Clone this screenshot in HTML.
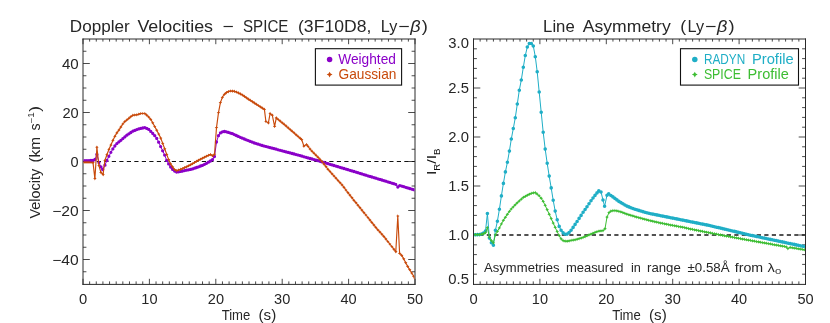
<!DOCTYPE html>
<html><head><meta charset="utf-8"><title>Doppler Velocities / Line Asymmetry</title>
<style>
html,body{margin:0;padding:0;background:#fff;}
body{width:830px;height:323px;overflow:hidden;}
svg{display:block;font-family:"Liberation Sans",sans-serif;}
</style></head><body>
<svg width="830" height="323" viewBox="0 0 830 323">
<rect width="830" height="323" fill="#fff"/>
<defs>
<clipPath id="c1"><rect x="83.6" y="39.6" width="330.8" height="243.8"/></clipPath>
<clipPath id="c2"><rect x="474.1" y="39.6" width="330.8" height="243.8"/></clipPath>
</defs>
<g style="will-change:transform">
<path d="M83.0,38.5V284.9M415.0,38.5V284.9M82.5,39.0H415.5M82.5,284.4H415.5" fill="none" stroke="#2a2a2a" stroke-width="1"/>
<path d="M83.00,284.4v-5.6000000000000005M83.00,39.0v5.2M89.64,284.4v-3.0M89.64,39.0v2.6M96.28,284.4v-3.0M96.28,39.0v2.6M102.92,284.4v-3.0M102.92,39.0v2.6M109.56,284.4v-3.0M109.56,39.0v2.6M116.20,284.4v-3.0M116.20,39.0v2.6M122.84,284.4v-3.0M122.84,39.0v2.6M129.48,284.4v-3.0M129.48,39.0v2.6M136.12,284.4v-3.0M136.12,39.0v2.6M142.76,284.4v-3.0M142.76,39.0v2.6M149.40,284.4v-5.6000000000000005M149.40,39.0v5.2M156.04,284.4v-3.0M156.04,39.0v2.6M162.68,284.4v-3.0M162.68,39.0v2.6M169.32,284.4v-3.0M169.32,39.0v2.6M175.96,284.4v-3.0M175.96,39.0v2.6M182.60,284.4v-3.0M182.60,39.0v2.6M189.24,284.4v-3.0M189.24,39.0v2.6M195.88,284.4v-3.0M195.88,39.0v2.6M202.52,284.4v-3.0M202.52,39.0v2.6M209.16,284.4v-3.0M209.16,39.0v2.6M215.80,284.4v-5.6000000000000005M215.80,39.0v5.2M222.44,284.4v-3.0M222.44,39.0v2.6M229.08,284.4v-3.0M229.08,39.0v2.6M235.72,284.4v-3.0M235.72,39.0v2.6M242.36,284.4v-3.0M242.36,39.0v2.6M249.00,284.4v-3.0M249.00,39.0v2.6M255.64,284.4v-3.0M255.64,39.0v2.6M262.28,284.4v-3.0M262.28,39.0v2.6M268.92,284.4v-3.0M268.92,39.0v2.6M275.56,284.4v-3.0M275.56,39.0v2.6M282.20,284.4v-5.6000000000000005M282.20,39.0v5.2M288.84,284.4v-3.0M288.84,39.0v2.6M295.48,284.4v-3.0M295.48,39.0v2.6M302.12,284.4v-3.0M302.12,39.0v2.6M308.76,284.4v-3.0M308.76,39.0v2.6M315.40,284.4v-3.0M315.40,39.0v2.6M322.04,284.4v-3.0M322.04,39.0v2.6M328.68,284.4v-3.0M328.68,39.0v2.6M335.32,284.4v-3.0M335.32,39.0v2.6M341.96,284.4v-3.0M341.96,39.0v2.6M348.60,284.4v-5.6000000000000005M348.60,39.0v5.2M355.24,284.4v-3.0M355.24,39.0v2.6M361.88,284.4v-3.0M361.88,39.0v2.6M368.52,284.4v-3.0M368.52,39.0v2.6M375.16,284.4v-3.0M375.16,39.0v2.6M381.80,284.4v-3.0M381.80,39.0v2.6M388.44,284.4v-3.0M388.44,39.0v2.6M395.08,284.4v-3.0M395.08,39.0v2.6M401.72,284.4v-3.0M401.72,39.0v2.6M408.36,284.4v-3.0M408.36,39.0v2.6M415.00,284.4v-5.6000000000000005M415.00,39.0v5.2M83.0,63.50h6.8M415.0,63.50h-6.8M83.0,112.50h6.8M415.0,112.50h-6.8M83.0,161.50h6.8M415.0,161.50h-6.8M83.0,210.50h6.8M415.0,210.50h-6.8M83.0,259.50h6.8M415.0,259.50h-6.8M83.0,51.25h3.4M415.0,51.25h-3.4M83.0,75.75h3.4M415.0,75.75h-3.4M83.0,88.00h3.4M415.0,88.00h-3.4M83.0,100.25h3.4M415.0,100.25h-3.4M83.0,124.75h3.4M415.0,124.75h-3.4M83.0,137.00h3.4M415.0,137.00h-3.4M83.0,149.25h3.4M415.0,149.25h-3.4M83.0,173.75h3.4M415.0,173.75h-3.4M83.0,186.00h3.4M415.0,186.00h-3.4M83.0,198.25h3.4M415.0,198.25h-3.4M83.0,222.75h3.4M415.0,222.75h-3.4M83.0,235.00h3.4M415.0,235.00h-3.4M83.0,247.25h3.4M415.0,247.25h-3.4M83.0,271.75h3.4M415.0,271.75h-3.4" stroke="#2a2a2a" stroke-width="0.85" fill="none"/>
<text x="79.0" y="303.5" font-size="13.9" fill="#262626" textLength="8.2" lengthAdjust="spacingAndGlyphs">0</text>
<text x="141.3" y="303.5" font-size="13.9" fill="#262626" textLength="16.2" lengthAdjust="spacingAndGlyphs">10</text>
<text x="207.8" y="303.5" font-size="13.9" fill="#262626" textLength="16.2" lengthAdjust="spacingAndGlyphs">20</text>
<text x="274.1" y="303.5" font-size="13.9" fill="#262626" textLength="16.2" lengthAdjust="spacingAndGlyphs">30</text>
<text x="340.5" y="303.5" font-size="13.9" fill="#262626" textLength="16.2" lengthAdjust="spacingAndGlyphs">40</text>
<text x="406.9" y="303.5" font-size="13.9" fill="#262626" textLength="16.2" lengthAdjust="spacingAndGlyphs">50</text>
<text x="61.9" y="68.7" font-size="13.9" fill="#262626" textLength="16.8" lengthAdjust="spacingAndGlyphs">40</text>
<text x="62.4" y="117.9" font-size="13.9" fill="#262626" textLength="16.3" lengthAdjust="spacingAndGlyphs">20</text>
<text x="70.6" y="166.7" font-size="13.9" fill="#262626" textLength="8.1" lengthAdjust="spacingAndGlyphs">0</text>
<text x="52.2" y="215.9" font-size="13.9" fill="#262626" textLength="26.5" lengthAdjust="spacingAndGlyphs">−20</text>
<text x="52.2" y="264.9" font-size="13.9" fill="#262626" textLength="26.5" lengthAdjust="spacingAndGlyphs">−40</text>
<g clip-path="url(#c1)">
<path d="M81.8,161.5H415" stroke="#111" stroke-width="1.15" stroke-dasharray="4.2 3.3" fill="none"/>
<polyline points="83.0,160.6 85.0,160.6 87.0,160.6 89.0,160.6 91.0,160.5 93.0,160.4 95.0,159.5 96.9,154.5 98.9,162.4 100.9,166.9 102.7,169.5 104.9,165.2 106.9,160.5 108.9,156.3 110.9,152.3 112.9,148.9 114.9,146.0 116.9,143.6 118.9,141.9 120.8,140.3 122.8,138.6 124.8,136.9 126.8,135.2 128.8,133.8 130.8,132.5 132.8,131.2 134.8,130.4 136.8,129.6 138.8,128.9 140.8,128.4 142.8,128.0 144.8,127.6 146.7,128.4 148.7,129.4 150.7,131.4 152.7,133.5 154.7,135.7 156.7,138.4 158.7,142.2 160.7,146.6 162.7,150.8 164.7,155.1 166.7,160.4 168.7,163.9 170.6,167.0 172.6,169.4 174.6,171.0 176.6,172.0 178.6,171.8 180.6,171.4 182.6,171.0 184.6,170.6 186.6,170.2 188.6,169.8 190.6,169.4 192.6,168.9 194.6,168.2 196.5,167.5 198.5,166.8 200.5,166.0 202.5,165.3 204.5,164.3 206.5,163.3 208.5,162.2 210.5,161.0 212.5,159.7 214.5,156.5 216.5,142.0 218.5,135.7 220.4,132.9 222.4,131.8 224.4,131.5 226.4,131.8 228.4,132.4 230.4,133.1 232.4,133.7 234.4,134.6 236.4,135.5 238.4,136.4 240.4,137.3 242.4,138.2 244.4,139.0 246.3,139.8 248.3,140.6 250.3,141.4 252.3,142.2 254.3,143.0 256.3,143.6 258.3,144.2 260.3,144.8 262.3,145.5 264.3,146.1 266.3,146.6 268.3,147.1 270.2,147.7 272.2,148.2 274.2,148.7 276.2,149.2 278.2,149.8 280.2,150.3 282.2,150.8 284.2,151.3 286.2,151.9 288.2,152.4 290.2,152.9 292.2,153.5 294.2,154.0 296.1,154.6 298.1,155.1 300.1,155.6 302.1,156.2 304.1,156.8 306.1,157.3 308.1,157.9 310.1,158.5 312.1,159.0 314.1,159.6 316.1,160.1 318.1,160.7 320.0,161.3 322.0,161.9 324.0,162.5 326.0,163.1 328.0,163.7 330.0,164.3 332.0,164.9 334.0,165.5 336.0,166.1 338.0,166.7 340.0,167.3 342.0,167.9 344.0,168.5 345.9,169.1 347.9,169.7 349.9,170.3 351.9,170.9 353.9,171.5 355.9,172.1 357.9,172.7 359.9,173.3 361.9,173.9 363.9,174.6 365.9,175.2 367.9,175.8 369.8,176.4 371.8,177.0 373.8,177.6 375.8,178.2 377.8,178.8 379.8,179.4 381.8,180.0 383.8,180.6 385.8,181.2 387.8,181.8 389.8,182.4 391.8,183.1 393.8,183.7 395.7,184.3 397.8,187.0 399.7,185.6 401.7,186.1 403.7,186.7 405.7,187.3 407.7,187.9 409.7,188.5 411.7,189.1 413.7,189.7 415.0,190.1" fill="none" stroke="#8A00C8" stroke-width="1"/>
<path d="M81.3,160.6a1.65,1.65 0 1,0 3.3,0a1.65,1.65 0 1,0 -3.3,0zM83.3,160.6a1.65,1.65 0 1,0 3.3,0a1.65,1.65 0 1,0 -3.3,0zM85.3,160.6a1.65,1.65 0 1,0 3.3,0a1.65,1.65 0 1,0 -3.3,0zM87.3,160.6a1.65,1.65 0 1,0 3.3,0a1.65,1.65 0 1,0 -3.3,0zM89.3,160.5a1.65,1.65 0 1,0 3.3,0a1.65,1.65 0 1,0 -3.3,0zM91.3,160.4a1.65,1.65 0 1,0 3.3,0a1.65,1.65 0 1,0 -3.3,0zM93.3,159.5a1.65,1.65 0 1,0 3.3,0a1.65,1.65 0 1,0 -3.3,0zM95.2,154.5a1.65,1.65 0 1,0 3.3,0a1.65,1.65 0 1,0 -3.3,0zM97.3,162.4a1.65,1.65 0 1,0 3.3,0a1.65,1.65 0 1,0 -3.3,0zM99.3,166.9a1.65,1.65 0 1,0 3.3,0a1.65,1.65 0 1,0 -3.3,0zM101.0,169.5a1.65,1.65 0 1,0 3.3,0a1.65,1.65 0 1,0 -3.3,0zM103.3,165.2a1.65,1.65 0 1,0 3.3,0a1.65,1.65 0 1,0 -3.3,0zM105.3,160.5a1.65,1.65 0 1,0 3.3,0a1.65,1.65 0 1,0 -3.3,0zM107.2,156.3a1.65,1.65 0 1,0 3.3,0a1.65,1.65 0 1,0 -3.3,0zM109.2,152.3a1.65,1.65 0 1,0 3.3,0a1.65,1.65 0 1,0 -3.3,0zM111.2,148.9a1.65,1.65 0 1,0 3.3,0a1.65,1.65 0 1,0 -3.3,0zM113.2,146.0a1.65,1.65 0 1,0 3.3,0a1.65,1.65 0 1,0 -3.3,0zM115.2,143.6a1.65,1.65 0 1,0 3.3,0a1.65,1.65 0 1,0 -3.3,0zM117.2,141.9a1.65,1.65 0 1,0 3.3,0a1.65,1.65 0 1,0 -3.3,0zM119.2,140.3a1.65,1.65 0 1,0 3.3,0a1.65,1.65 0 1,0 -3.3,0zM121.2,138.6a1.65,1.65 0 1,0 3.3,0a1.65,1.65 0 1,0 -3.3,0zM123.2,136.9a1.65,1.65 0 1,0 3.3,0a1.65,1.65 0 1,0 -3.3,0zM125.2,135.2a1.65,1.65 0 1,0 3.3,0a1.65,1.65 0 1,0 -3.3,0zM127.2,133.8a1.65,1.65 0 1,0 3.3,0a1.65,1.65 0 1,0 -3.3,0zM129.2,132.5a1.65,1.65 0 1,0 3.3,0a1.65,1.65 0 1,0 -3.3,0zM131.2,131.2a1.65,1.65 0 1,0 3.3,0a1.65,1.65 0 1,0 -3.3,0zM133.1,130.4a1.65,1.65 0 1,0 3.3,0a1.65,1.65 0 1,0 -3.3,0zM135.1,129.6a1.65,1.65 0 1,0 3.3,0a1.65,1.65 0 1,0 -3.3,0zM137.1,128.9a1.65,1.65 0 1,0 3.3,0a1.65,1.65 0 1,0 -3.3,0zM139.1,128.4a1.65,1.65 0 1,0 3.3,0a1.65,1.65 0 1,0 -3.3,0zM141.1,128.0a1.65,1.65 0 1,0 3.3,0a1.65,1.65 0 1,0 -3.3,0zM143.1,127.6a1.65,1.65 0 1,0 3.3,0a1.65,1.65 0 1,0 -3.3,0zM145.1,128.4a1.65,1.65 0 1,0 3.3,0a1.65,1.65 0 1,0 -3.3,0zM147.1,129.4a1.65,1.65 0 1,0 3.3,0a1.65,1.65 0 1,0 -3.3,0zM149.1,131.4a1.65,1.65 0 1,0 3.3,0a1.65,1.65 0 1,0 -3.3,0zM151.1,133.5a1.65,1.65 0 1,0 3.3,0a1.65,1.65 0 1,0 -3.3,0zM153.1,135.7a1.65,1.65 0 1,0 3.3,0a1.65,1.65 0 1,0 -3.3,0zM155.1,138.4a1.65,1.65 0 1,0 3.3,0a1.65,1.65 0 1,0 -3.3,0zM157.0,142.2a1.65,1.65 0 1,0 3.3,0a1.65,1.65 0 1,0 -3.3,0zM159.0,146.6a1.65,1.65 0 1,0 3.3,0a1.65,1.65 0 1,0 -3.3,0zM161.0,150.8a1.65,1.65 0 1,0 3.3,0a1.65,1.65 0 1,0 -3.3,0zM163.0,155.1a1.65,1.65 0 1,0 3.3,0a1.65,1.65 0 1,0 -3.3,0zM165.0,160.4a1.65,1.65 0 1,0 3.3,0a1.65,1.65 0 1,0 -3.3,0zM167.0,163.9a1.65,1.65 0 1,0 3.3,0a1.65,1.65 0 1,0 -3.3,0zM169.0,167.0a1.65,1.65 0 1,0 3.3,0a1.65,1.65 0 1,0 -3.3,0zM171.0,169.4a1.65,1.65 0 1,0 3.3,0a1.65,1.65 0 1,0 -3.3,0zM173.0,171.0a1.65,1.65 0 1,0 3.3,0a1.65,1.65 0 1,0 -3.3,0zM175.0,172.0a1.65,1.65 0 1,0 3.3,0a1.65,1.65 0 1,0 -3.3,0zM177.0,171.8a1.65,1.65 0 1,0 3.3,0a1.65,1.65 0 1,0 -3.3,0zM179.0,171.4a1.65,1.65 0 1,0 3.3,0a1.65,1.65 0 1,0 -3.3,0zM180.9,171.0a1.65,1.65 0 1,0 3.3,0a1.65,1.65 0 1,0 -3.3,0zM182.9,170.6a1.65,1.65 0 1,0 3.3,0a1.65,1.65 0 1,0 -3.3,0zM184.9,170.2a1.65,1.65 0 1,0 3.3,0a1.65,1.65 0 1,0 -3.3,0zM186.9,169.8a1.65,1.65 0 1,0 3.3,0a1.65,1.65 0 1,0 -3.3,0zM188.9,169.4a1.65,1.65 0 1,0 3.3,0a1.65,1.65 0 1,0 -3.3,0zM190.9,168.9a1.65,1.65 0 1,0 3.3,0a1.65,1.65 0 1,0 -3.3,0zM192.9,168.2a1.65,1.65 0 1,0 3.3,0a1.65,1.65 0 1,0 -3.3,0zM194.9,167.5a1.65,1.65 0 1,0 3.3,0a1.65,1.65 0 1,0 -3.3,0zM196.9,166.8a1.65,1.65 0 1,0 3.3,0a1.65,1.65 0 1,0 -3.3,0zM198.9,166.0a1.65,1.65 0 1,0 3.3,0a1.65,1.65 0 1,0 -3.3,0zM200.9,165.3a1.65,1.65 0 1,0 3.3,0a1.65,1.65 0 1,0 -3.3,0zM202.9,164.3a1.65,1.65 0 1,0 3.3,0a1.65,1.65 0 1,0 -3.3,0zM204.9,163.3a1.65,1.65 0 1,0 3.3,0a1.65,1.65 0 1,0 -3.3,0zM206.8,162.2a1.65,1.65 0 1,0 3.3,0a1.65,1.65 0 1,0 -3.3,0zM208.8,161.0a1.65,1.65 0 1,0 3.3,0a1.65,1.65 0 1,0 -3.3,0zM210.8,159.7a1.65,1.65 0 1,0 3.3,0a1.65,1.65 0 1,0 -3.3,0zM212.8,156.5a1.65,1.65 0 1,0 3.3,0a1.65,1.65 0 1,0 -3.3,0zM214.8,142.0a1.65,1.65 0 1,0 3.3,0a1.65,1.65 0 1,0 -3.3,0zM216.8,135.7a1.65,1.65 0 1,0 3.3,0a1.65,1.65 0 1,0 -3.3,0zM218.8,132.9a1.65,1.65 0 1,0 3.3,0a1.65,1.65 0 1,0 -3.3,0zM220.8,131.8a1.65,1.65 0 1,0 3.3,0a1.65,1.65 0 1,0 -3.3,0zM222.8,131.5a1.65,1.65 0 1,0 3.3,0a1.65,1.65 0 1,0 -3.3,0zM224.8,131.8a1.65,1.65 0 1,0 3.3,0a1.65,1.65 0 1,0 -3.3,0zM226.8,132.4a1.65,1.65 0 1,0 3.3,0a1.65,1.65 0 1,0 -3.3,0zM228.8,133.1a1.65,1.65 0 1,0 3.3,0a1.65,1.65 0 1,0 -3.3,0zM230.8,133.7a1.65,1.65 0 1,0 3.3,0a1.65,1.65 0 1,0 -3.3,0zM232.7,134.6a1.65,1.65 0 1,0 3.3,0a1.65,1.65 0 1,0 -3.3,0zM234.7,135.5a1.65,1.65 0 1,0 3.3,0a1.65,1.65 0 1,0 -3.3,0zM236.7,136.4a1.65,1.65 0 1,0 3.3,0a1.65,1.65 0 1,0 -3.3,0zM238.7,137.3a1.65,1.65 0 1,0 3.3,0a1.65,1.65 0 1,0 -3.3,0zM240.7,138.2a1.65,1.65 0 1,0 3.3,0a1.65,1.65 0 1,0 -3.3,0zM242.7,139.0a1.65,1.65 0 1,0 3.3,0a1.65,1.65 0 1,0 -3.3,0zM244.7,139.8a1.65,1.65 0 1,0 3.3,0a1.65,1.65 0 1,0 -3.3,0zM246.7,140.6a1.65,1.65 0 1,0 3.3,0a1.65,1.65 0 1,0 -3.3,0zM248.7,141.4a1.65,1.65 0 1,0 3.3,0a1.65,1.65 0 1,0 -3.3,0zM250.7,142.2a1.65,1.65 0 1,0 3.3,0a1.65,1.65 0 1,0 -3.3,0zM252.7,143.0a1.65,1.65 0 1,0 3.3,0a1.65,1.65 0 1,0 -3.3,0zM254.7,143.6a1.65,1.65 0 1,0 3.3,0a1.65,1.65 0 1,0 -3.3,0zM256.6,144.2a1.65,1.65 0 1,0 3.3,0a1.65,1.65 0 1,0 -3.3,0zM258.6,144.8a1.65,1.65 0 1,0 3.3,0a1.65,1.65 0 1,0 -3.3,0zM260.6,145.5a1.65,1.65 0 1,0 3.3,0a1.65,1.65 0 1,0 -3.3,0zM262.6,146.1a1.65,1.65 0 1,0 3.3,0a1.65,1.65 0 1,0 -3.3,0zM264.6,146.6a1.65,1.65 0 1,0 3.3,0a1.65,1.65 0 1,0 -3.3,0zM266.6,147.1a1.65,1.65 0 1,0 3.3,0a1.65,1.65 0 1,0 -3.3,0zM268.6,147.7a1.65,1.65 0 1,0 3.3,0a1.65,1.65 0 1,0 -3.3,0zM270.6,148.2a1.65,1.65 0 1,0 3.3,0a1.65,1.65 0 1,0 -3.3,0zM272.6,148.7a1.65,1.65 0 1,0 3.3,0a1.65,1.65 0 1,0 -3.3,0zM274.6,149.2a1.65,1.65 0 1,0 3.3,0a1.65,1.65 0 1,0 -3.3,0zM276.6,149.8a1.65,1.65 0 1,0 3.3,0a1.65,1.65 0 1,0 -3.3,0zM278.6,150.3a1.65,1.65 0 1,0 3.3,0a1.65,1.65 0 1,0 -3.3,0zM280.6,150.8a1.65,1.65 0 1,0 3.3,0a1.65,1.65 0 1,0 -3.3,0zM282.5,151.3a1.65,1.65 0 1,0 3.3,0a1.65,1.65 0 1,0 -3.3,0zM284.5,151.9a1.65,1.65 0 1,0 3.3,0a1.65,1.65 0 1,0 -3.3,0zM286.5,152.4a1.65,1.65 0 1,0 3.3,0a1.65,1.65 0 1,0 -3.3,0zM288.5,152.9a1.65,1.65 0 1,0 3.3,0a1.65,1.65 0 1,0 -3.3,0zM290.5,153.5a1.65,1.65 0 1,0 3.3,0a1.65,1.65 0 1,0 -3.3,0zM292.5,154.0a1.65,1.65 0 1,0 3.3,0a1.65,1.65 0 1,0 -3.3,0zM294.5,154.6a1.65,1.65 0 1,0 3.3,0a1.65,1.65 0 1,0 -3.3,0zM296.5,155.1a1.65,1.65 0 1,0 3.3,0a1.65,1.65 0 1,0 -3.3,0zM298.5,155.6a1.65,1.65 0 1,0 3.3,0a1.65,1.65 0 1,0 -3.3,0zM300.5,156.2a1.65,1.65 0 1,0 3.3,0a1.65,1.65 0 1,0 -3.3,0zM302.5,156.8a1.65,1.65 0 1,0 3.3,0a1.65,1.65 0 1,0 -3.3,0zM304.5,157.3a1.65,1.65 0 1,0 3.3,0a1.65,1.65 0 1,0 -3.3,0zM306.4,157.9a1.65,1.65 0 1,0 3.3,0a1.65,1.65 0 1,0 -3.3,0zM308.4,158.5a1.65,1.65 0 1,0 3.3,0a1.65,1.65 0 1,0 -3.3,0zM310.4,159.0a1.65,1.65 0 1,0 3.3,0a1.65,1.65 0 1,0 -3.3,0zM312.4,159.6a1.65,1.65 0 1,0 3.3,0a1.65,1.65 0 1,0 -3.3,0zM314.4,160.1a1.65,1.65 0 1,0 3.3,0a1.65,1.65 0 1,0 -3.3,0zM316.4,160.7a1.65,1.65 0 1,0 3.3,0a1.65,1.65 0 1,0 -3.3,0zM318.4,161.3a1.65,1.65 0 1,0 3.3,0a1.65,1.65 0 1,0 -3.3,0zM320.4,161.9a1.65,1.65 0 1,0 3.3,0a1.65,1.65 0 1,0 -3.3,0zM322.4,162.5a1.65,1.65 0 1,0 3.3,0a1.65,1.65 0 1,0 -3.3,0zM324.4,163.1a1.65,1.65 0 1,0 3.3,0a1.65,1.65 0 1,0 -3.3,0zM326.4,163.7a1.65,1.65 0 1,0 3.3,0a1.65,1.65 0 1,0 -3.3,0zM328.4,164.3a1.65,1.65 0 1,0 3.3,0a1.65,1.65 0 1,0 -3.3,0zM330.4,164.9a1.65,1.65 0 1,0 3.3,0a1.65,1.65 0 1,0 -3.3,0zM332.3,165.5a1.65,1.65 0 1,0 3.3,0a1.65,1.65 0 1,0 -3.3,0zM334.3,166.1a1.65,1.65 0 1,0 3.3,0a1.65,1.65 0 1,0 -3.3,0zM336.3,166.7a1.65,1.65 0 1,0 3.3,0a1.65,1.65 0 1,0 -3.3,0zM338.3,167.3a1.65,1.65 0 1,0 3.3,0a1.65,1.65 0 1,0 -3.3,0zM340.3,167.9a1.65,1.65 0 1,0 3.3,0a1.65,1.65 0 1,0 -3.3,0zM342.3,168.5a1.65,1.65 0 1,0 3.3,0a1.65,1.65 0 1,0 -3.3,0zM344.3,169.1a1.65,1.65 0 1,0 3.3,0a1.65,1.65 0 1,0 -3.3,0zM346.3,169.7a1.65,1.65 0 1,0 3.3,0a1.65,1.65 0 1,0 -3.3,0zM348.3,170.3a1.65,1.65 0 1,0 3.3,0a1.65,1.65 0 1,0 -3.3,0zM350.3,170.9a1.65,1.65 0 1,0 3.3,0a1.65,1.65 0 1,0 -3.3,0zM352.3,171.5a1.65,1.65 0 1,0 3.3,0a1.65,1.65 0 1,0 -3.3,0zM354.3,172.1a1.65,1.65 0 1,0 3.3,0a1.65,1.65 0 1,0 -3.3,0zM356.2,172.7a1.65,1.65 0 1,0 3.3,0a1.65,1.65 0 1,0 -3.3,0zM358.2,173.3a1.65,1.65 0 1,0 3.3,0a1.65,1.65 0 1,0 -3.3,0zM360.2,173.9a1.65,1.65 0 1,0 3.3,0a1.65,1.65 0 1,0 -3.3,0zM362.2,174.6a1.65,1.65 0 1,0 3.3,0a1.65,1.65 0 1,0 -3.3,0zM364.2,175.2a1.65,1.65 0 1,0 3.3,0a1.65,1.65 0 1,0 -3.3,0zM366.2,175.8a1.65,1.65 0 1,0 3.3,0a1.65,1.65 0 1,0 -3.3,0zM368.2,176.4a1.65,1.65 0 1,0 3.3,0a1.65,1.65 0 1,0 -3.3,0zM370.2,177.0a1.65,1.65 0 1,0 3.3,0a1.65,1.65 0 1,0 -3.3,0zM372.2,177.6a1.65,1.65 0 1,0 3.3,0a1.65,1.65 0 1,0 -3.3,0zM374.2,178.2a1.65,1.65 0 1,0 3.3,0a1.65,1.65 0 1,0 -3.3,0zM376.2,178.8a1.65,1.65 0 1,0 3.3,0a1.65,1.65 0 1,0 -3.3,0zM378.2,179.4a1.65,1.65 0 1,0 3.3,0a1.65,1.65 0 1,0 -3.3,0zM380.2,180.0a1.65,1.65 0 1,0 3.3,0a1.65,1.65 0 1,0 -3.3,0zM382.1,180.6a1.65,1.65 0 1,0 3.3,0a1.65,1.65 0 1,0 -3.3,0zM384.1,181.2a1.65,1.65 0 1,0 3.3,0a1.65,1.65 0 1,0 -3.3,0zM386.1,181.8a1.65,1.65 0 1,0 3.3,0a1.65,1.65 0 1,0 -3.3,0zM388.1,182.4a1.65,1.65 0 1,0 3.3,0a1.65,1.65 0 1,0 -3.3,0zM390.1,183.1a1.65,1.65 0 1,0 3.3,0a1.65,1.65 0 1,0 -3.3,0zM392.1,183.7a1.65,1.65 0 1,0 3.3,0a1.65,1.65 0 1,0 -3.3,0zM394.1,184.3a1.65,1.65 0 1,0 3.3,0a1.65,1.65 0 1,0 -3.3,0zM396.2,187.0a1.65,1.65 0 1,0 3.3,0a1.65,1.65 0 1,0 -3.3,0zM398.1,185.6a1.65,1.65 0 1,0 3.3,0a1.65,1.65 0 1,0 -3.3,0zM400.1,186.1a1.65,1.65 0 1,0 3.3,0a1.65,1.65 0 1,0 -3.3,0zM402.1,186.7a1.65,1.65 0 1,0 3.3,0a1.65,1.65 0 1,0 -3.3,0zM404.1,187.3a1.65,1.65 0 1,0 3.3,0a1.65,1.65 0 1,0 -3.3,0zM406.0,187.9a1.65,1.65 0 1,0 3.3,0a1.65,1.65 0 1,0 -3.3,0zM408.0,188.5a1.65,1.65 0 1,0 3.3,0a1.65,1.65 0 1,0 -3.3,0zM410.0,189.1a1.65,1.65 0 1,0 3.3,0a1.65,1.65 0 1,0 -3.3,0zM412.0,189.7a1.65,1.65 0 1,0 3.3,0a1.65,1.65 0 1,0 -3.3,0zM413.4,190.1a1.65,1.65 0 1,0 3.3,0a1.65,1.65 0 1,0 -3.3,0z" fill="#8A00C8"/>
<polyline points="83.0,162.4 85.0,162.4 87.0,162.4 89.0,162.4 91.0,162.5 93.0,162.6 94.9,178.6 96.9,147.2 98.9,165.5 100.9,172.4 103.1,174.6 104.9,160.5 106.9,154.8 108.9,149.5 110.9,145.1 112.9,140.4 114.9,136.3 116.9,132.9 118.9,130.1 120.8,127.1 122.8,124.0 124.8,121.6 126.8,120.0 128.8,118.4 130.8,116.7 132.8,115.3 134.8,115.0 136.8,114.8 138.8,114.2 140.8,113.5 142.8,113.5 144.8,113.5 146.7,115.1 148.7,117.0 150.7,119.3 152.7,122.8 154.7,126.5 156.7,130.2 158.7,134.0 160.7,138.1 162.7,143.4 164.7,148.8 166.7,154.4 168.7,159.7 170.6,163.9 172.6,166.9 174.6,169.5 176.6,170.7 178.6,170.0 180.6,169.3 182.6,168.5 184.6,167.6 186.6,166.8 188.6,165.8 190.6,164.8 192.6,163.7 194.6,162.5 196.5,161.3 198.5,160.2 200.5,159.2 202.5,158.2 204.5,157.2 206.5,156.2 208.5,155.3 210.5,154.5 212.5,155.8 214.5,154.2 216.5,127.6 218.5,112.7 220.4,102.6 222.4,97.3 224.4,94.3 226.4,92.6 228.4,91.6 230.4,91.0 232.4,91.1 234.4,91.4 236.4,92.0 238.4,92.9 240.4,93.9 242.4,95.0 244.4,96.3 246.3,97.7 248.3,99.1 250.3,100.3 252.3,101.6 254.3,102.9 256.3,104.2 258.3,105.5 260.3,106.8 262.3,108.1 264.4,109.4 265.9,121.5 268.4,122.9 270.1,113.5 272.3,115.2 274.6,126.4 276.3,117.9 278.2,119.5 280.2,121.1 282.2,122.8 284.2,124.4 286.2,126.1 288.2,127.9 290.2,129.6 292.2,131.3 294.2,133.0 296.1,134.8 298.1,136.5 300.1,138.2 301.7,139.6 303.9,146.1 306.6,144.5 308.1,146.5 310.1,149.1 312.1,151.3 314.1,153.3 316.1,155.4 318.1,157.4 320.0,159.4 322.0,161.5 324.0,164.1 326.0,166.7 328.0,169.3 330.0,171.5 332.0,173.8 334.0,176.0 336.0,178.2 338.0,180.5 340.0,182.7 342.0,184.9 344.0,187.4 345.9,190.0 347.9,192.6 349.9,195.1 351.9,197.7 353.9,200.3 355.9,202.7 357.9,205.2 359.9,207.6 361.9,210.1 363.9,212.6 365.9,215.0 367.9,217.5 369.8,219.9 371.8,222.4 373.8,224.9 375.8,227.3 377.8,229.8 379.8,231.9 381.8,234.1 383.8,236.4 385.8,238.9 387.8,241.5 389.8,244.0 391.8,246.5 393.8,249.1 395.8,251.7 397.8,216.0 399.6,253.3 401.7,255.4 403.7,258.8 405.7,262.7 407.7,266.4 409.7,269.7 411.7,273.0 413.7,276.3 415.0,278.5" fill="none" stroke="#C8490A" stroke-width="1.15"/>
<path d="M83.0,160.6l0.61,1.19l1.19,0.61l-1.19,0.61l-0.61,1.19l-0.61,-1.19l-1.19,-0.61l1.19,-0.61zM85.0,160.6l0.61,1.19l1.19,0.61l-1.19,0.61l-0.61,1.19l-0.61,-1.19l-1.19,-0.61l1.19,-0.61zM87.0,160.6l0.61,1.19l1.19,0.61l-1.19,0.61l-0.61,1.19l-0.61,-1.19l-1.19,-0.61l1.19,-0.61zM89.0,160.6l0.61,1.19l1.19,0.61l-1.19,0.61l-0.61,1.19l-0.61,-1.19l-1.19,-0.61l1.19,-0.61zM91.0,160.7l0.61,1.19l1.19,0.61l-1.19,0.61l-0.61,1.19l-0.61,-1.19l-1.19,-0.61l1.19,-0.61zM93.0,160.8l0.61,1.19l1.19,0.61l-1.19,0.61l-0.61,1.19l-0.61,-1.19l-1.19,-0.61l1.19,-0.61zM94.9,176.8l0.61,1.19l1.19,0.61l-1.19,0.61l-0.61,1.19l-0.61,-1.19l-1.19,-0.61l1.19,-0.61zM96.9,145.4l0.61,1.19l1.19,0.61l-1.19,0.61l-0.61,1.19l-0.61,-1.19l-1.19,-0.61l1.19,-0.61zM98.9,163.7l0.61,1.19l1.19,0.61l-1.19,0.61l-0.61,1.19l-0.61,-1.19l-1.19,-0.61l1.19,-0.61zM100.9,170.6l0.61,1.19l1.19,0.61l-1.19,0.61l-0.61,1.19l-0.61,-1.19l-1.19,-0.61l1.19,-0.61zM103.1,172.8l0.61,1.19l1.19,0.61l-1.19,0.61l-0.61,1.19l-0.61,-1.19l-1.19,-0.61l1.19,-0.61zM104.9,158.7l0.61,1.19l1.19,0.61l-1.19,0.61l-0.61,1.19l-0.61,-1.19l-1.19,-0.61l1.19,-0.61zM106.9,153.0l0.61,1.19l1.19,0.61l-1.19,0.61l-0.61,1.19l-0.61,-1.19l-1.19,-0.61l1.19,-0.61zM108.9,147.7l0.61,1.19l1.19,0.61l-1.19,0.61l-0.61,1.19l-0.61,-1.19l-1.19,-0.61l1.19,-0.61zM110.9,143.3l0.61,1.19l1.19,0.61l-1.19,0.61l-0.61,1.19l-0.61,-1.19l-1.19,-0.61l1.19,-0.61zM112.9,138.6l0.61,1.19l1.19,0.61l-1.19,0.61l-0.61,1.19l-0.61,-1.19l-1.19,-0.61l1.19,-0.61zM114.9,134.5l0.61,1.19l1.19,0.61l-1.19,0.61l-0.61,1.19l-0.61,-1.19l-1.19,-0.61l1.19,-0.61zM116.9,131.1l0.61,1.19l1.19,0.61l-1.19,0.61l-0.61,1.19l-0.61,-1.19l-1.19,-0.61l1.19,-0.61zM118.9,128.3l0.61,1.19l1.19,0.61l-1.19,0.61l-0.61,1.19l-0.61,-1.19l-1.19,-0.61l1.19,-0.61zM120.8,125.3l0.61,1.19l1.19,0.61l-1.19,0.61l-0.61,1.19l-0.61,-1.19l-1.19,-0.61l1.19,-0.61zM122.8,122.2l0.61,1.19l1.19,0.61l-1.19,0.61l-0.61,1.19l-0.61,-1.19l-1.19,-0.61l1.19,-0.61zM124.8,119.8l0.61,1.19l1.19,0.61l-1.19,0.61l-0.61,1.19l-0.61,-1.19l-1.19,-0.61l1.19,-0.61zM126.8,118.2l0.61,1.19l1.19,0.61l-1.19,0.61l-0.61,1.19l-0.61,-1.19l-1.19,-0.61l1.19,-0.61zM128.8,116.6l0.61,1.19l1.19,0.61l-1.19,0.61l-0.61,1.19l-0.61,-1.19l-1.19,-0.61l1.19,-0.61zM130.8,114.9l0.61,1.19l1.19,0.61l-1.19,0.61l-0.61,1.19l-0.61,-1.19l-1.19,-0.61l1.19,-0.61zM132.8,113.5l0.61,1.19l1.19,0.61l-1.19,0.61l-0.61,1.19l-0.61,-1.19l-1.19,-0.61l1.19,-0.61zM134.8,113.2l0.61,1.19l1.19,0.61l-1.19,0.61l-0.61,1.19l-0.61,-1.19l-1.19,-0.61l1.19,-0.61zM136.8,113.0l0.61,1.19l1.19,0.61l-1.19,0.61l-0.61,1.19l-0.61,-1.19l-1.19,-0.61l1.19,-0.61zM138.8,112.4l0.61,1.19l1.19,0.61l-1.19,0.61l-0.61,1.19l-0.61,-1.19l-1.19,-0.61l1.19,-0.61zM140.8,111.7l0.61,1.19l1.19,0.61l-1.19,0.61l-0.61,1.19l-0.61,-1.19l-1.19,-0.61l1.19,-0.61zM142.8,111.7l0.61,1.19l1.19,0.61l-1.19,0.61l-0.61,1.19l-0.61,-1.19l-1.19,-0.61l1.19,-0.61zM144.8,111.7l0.61,1.19l1.19,0.61l-1.19,0.61l-0.61,1.19l-0.61,-1.19l-1.19,-0.61l1.19,-0.61zM146.7,113.3l0.61,1.19l1.19,0.61l-1.19,0.61l-0.61,1.19l-0.61,-1.19l-1.19,-0.61l1.19,-0.61zM148.7,115.2l0.61,1.19l1.19,0.61l-1.19,0.61l-0.61,1.19l-0.61,-1.19l-1.19,-0.61l1.19,-0.61zM150.7,117.5l0.61,1.19l1.19,0.61l-1.19,0.61l-0.61,1.19l-0.61,-1.19l-1.19,-0.61l1.19,-0.61zM152.7,121.0l0.61,1.19l1.19,0.61l-1.19,0.61l-0.61,1.19l-0.61,-1.19l-1.19,-0.61l1.19,-0.61zM154.7,124.7l0.61,1.19l1.19,0.61l-1.19,0.61l-0.61,1.19l-0.61,-1.19l-1.19,-0.61l1.19,-0.61zM156.7,128.4l0.61,1.19l1.19,0.61l-1.19,0.61l-0.61,1.19l-0.61,-1.19l-1.19,-0.61l1.19,-0.61zM158.7,132.2l0.61,1.19l1.19,0.61l-1.19,0.61l-0.61,1.19l-0.61,-1.19l-1.19,-0.61l1.19,-0.61zM160.7,136.3l0.61,1.19l1.19,0.61l-1.19,0.61l-0.61,1.19l-0.61,-1.19l-1.19,-0.61l1.19,-0.61zM162.7,141.6l0.61,1.19l1.19,0.61l-1.19,0.61l-0.61,1.19l-0.61,-1.19l-1.19,-0.61l1.19,-0.61zM164.7,147.0l0.61,1.19l1.19,0.61l-1.19,0.61l-0.61,1.19l-0.61,-1.19l-1.19,-0.61l1.19,-0.61zM166.7,152.6l0.61,1.19l1.19,0.61l-1.19,0.61l-0.61,1.19l-0.61,-1.19l-1.19,-0.61l1.19,-0.61zM168.7,157.9l0.61,1.19l1.19,0.61l-1.19,0.61l-0.61,1.19l-0.61,-1.19l-1.19,-0.61l1.19,-0.61zM170.6,162.1l0.61,1.19l1.19,0.61l-1.19,0.61l-0.61,1.19l-0.61,-1.19l-1.19,-0.61l1.19,-0.61zM172.6,165.1l0.61,1.19l1.19,0.61l-1.19,0.61l-0.61,1.19l-0.61,-1.19l-1.19,-0.61l1.19,-0.61zM174.6,167.7l0.61,1.19l1.19,0.61l-1.19,0.61l-0.61,1.19l-0.61,-1.19l-1.19,-0.61l1.19,-0.61zM176.6,168.9l0.61,1.19l1.19,0.61l-1.19,0.61l-0.61,1.19l-0.61,-1.19l-1.19,-0.61l1.19,-0.61zM178.6,168.2l0.61,1.19l1.19,0.61l-1.19,0.61l-0.61,1.19l-0.61,-1.19l-1.19,-0.61l1.19,-0.61zM180.6,167.5l0.61,1.19l1.19,0.61l-1.19,0.61l-0.61,1.19l-0.61,-1.19l-1.19,-0.61l1.19,-0.61zM182.6,166.7l0.61,1.19l1.19,0.61l-1.19,0.61l-0.61,1.19l-0.61,-1.19l-1.19,-0.61l1.19,-0.61zM184.6,165.8l0.61,1.19l1.19,0.61l-1.19,0.61l-0.61,1.19l-0.61,-1.19l-1.19,-0.61l1.19,-0.61zM186.6,165.0l0.61,1.19l1.19,0.61l-1.19,0.61l-0.61,1.19l-0.61,-1.19l-1.19,-0.61l1.19,-0.61zM188.6,164.0l0.61,1.19l1.19,0.61l-1.19,0.61l-0.61,1.19l-0.61,-1.19l-1.19,-0.61l1.19,-0.61zM190.6,163.0l0.61,1.19l1.19,0.61l-1.19,0.61l-0.61,1.19l-0.61,-1.19l-1.19,-0.61l1.19,-0.61zM192.6,161.9l0.61,1.19l1.19,0.61l-1.19,0.61l-0.61,1.19l-0.61,-1.19l-1.19,-0.61l1.19,-0.61zM194.6,160.7l0.61,1.19l1.19,0.61l-1.19,0.61l-0.61,1.19l-0.61,-1.19l-1.19,-0.61l1.19,-0.61zM196.5,159.5l0.61,1.19l1.19,0.61l-1.19,0.61l-0.61,1.19l-0.61,-1.19l-1.19,-0.61l1.19,-0.61zM198.5,158.4l0.61,1.19l1.19,0.61l-1.19,0.61l-0.61,1.19l-0.61,-1.19l-1.19,-0.61l1.19,-0.61zM200.5,157.4l0.61,1.19l1.19,0.61l-1.19,0.61l-0.61,1.19l-0.61,-1.19l-1.19,-0.61l1.19,-0.61zM202.5,156.4l0.61,1.19l1.19,0.61l-1.19,0.61l-0.61,1.19l-0.61,-1.19l-1.19,-0.61l1.19,-0.61zM204.5,155.4l0.61,1.19l1.19,0.61l-1.19,0.61l-0.61,1.19l-0.61,-1.19l-1.19,-0.61l1.19,-0.61zM206.5,154.4l0.61,1.19l1.19,0.61l-1.19,0.61l-0.61,1.19l-0.61,-1.19l-1.19,-0.61l1.19,-0.61zM208.5,153.5l0.61,1.19l1.19,0.61l-1.19,0.61l-0.61,1.19l-0.61,-1.19l-1.19,-0.61l1.19,-0.61zM210.5,152.7l0.61,1.19l1.19,0.61l-1.19,0.61l-0.61,1.19l-0.61,-1.19l-1.19,-0.61l1.19,-0.61zM212.5,154.0l0.61,1.19l1.19,0.61l-1.19,0.61l-0.61,1.19l-0.61,-1.19l-1.19,-0.61l1.19,-0.61zM214.5,152.4l0.61,1.19l1.19,0.61l-1.19,0.61l-0.61,1.19l-0.61,-1.19l-1.19,-0.61l1.19,-0.61zM216.5,125.8l0.61,1.19l1.19,0.61l-1.19,0.61l-0.61,1.19l-0.61,-1.19l-1.19,-0.61l1.19,-0.61zM218.5,110.9l0.61,1.19l1.19,0.61l-1.19,0.61l-0.61,1.19l-0.61,-1.19l-1.19,-0.61l1.19,-0.61zM220.4,100.8l0.61,1.19l1.19,0.61l-1.19,0.61l-0.61,1.19l-0.61,-1.19l-1.19,-0.61l1.19,-0.61zM222.4,95.5l0.61,1.19l1.19,0.61l-1.19,0.61l-0.61,1.19l-0.61,-1.19l-1.19,-0.61l1.19,-0.61zM224.4,92.5l0.61,1.19l1.19,0.61l-1.19,0.61l-0.61,1.19l-0.61,-1.19l-1.19,-0.61l1.19,-0.61zM226.4,90.8l0.61,1.19l1.19,0.61l-1.19,0.61l-0.61,1.19l-0.61,-1.19l-1.19,-0.61l1.19,-0.61zM228.4,89.8l0.61,1.19l1.19,0.61l-1.19,0.61l-0.61,1.19l-0.61,-1.19l-1.19,-0.61l1.19,-0.61zM230.4,89.2l0.61,1.19l1.19,0.61l-1.19,0.61l-0.61,1.19l-0.61,-1.19l-1.19,-0.61l1.19,-0.61zM232.4,89.3l0.61,1.19l1.19,0.61l-1.19,0.61l-0.61,1.19l-0.61,-1.19l-1.19,-0.61l1.19,-0.61zM234.4,89.6l0.61,1.19l1.19,0.61l-1.19,0.61l-0.61,1.19l-0.61,-1.19l-1.19,-0.61l1.19,-0.61zM236.4,90.2l0.61,1.19l1.19,0.61l-1.19,0.61l-0.61,1.19l-0.61,-1.19l-1.19,-0.61l1.19,-0.61zM238.4,91.1l0.61,1.19l1.19,0.61l-1.19,0.61l-0.61,1.19l-0.61,-1.19l-1.19,-0.61l1.19,-0.61zM240.4,92.1l0.61,1.19l1.19,0.61l-1.19,0.61l-0.61,1.19l-0.61,-1.19l-1.19,-0.61l1.19,-0.61zM242.4,93.2l0.61,1.19l1.19,0.61l-1.19,0.61l-0.61,1.19l-0.61,-1.19l-1.19,-0.61l1.19,-0.61zM244.4,94.5l0.61,1.19l1.19,0.61l-1.19,0.61l-0.61,1.19l-0.61,-1.19l-1.19,-0.61l1.19,-0.61zM246.3,95.9l0.61,1.19l1.19,0.61l-1.19,0.61l-0.61,1.19l-0.61,-1.19l-1.19,-0.61l1.19,-0.61zM248.3,97.3l0.61,1.19l1.19,0.61l-1.19,0.61l-0.61,1.19l-0.61,-1.19l-1.19,-0.61l1.19,-0.61zM250.3,98.5l0.61,1.19l1.19,0.61l-1.19,0.61l-0.61,1.19l-0.61,-1.19l-1.19,-0.61l1.19,-0.61zM252.3,99.8l0.61,1.19l1.19,0.61l-1.19,0.61l-0.61,1.19l-0.61,-1.19l-1.19,-0.61l1.19,-0.61zM254.3,101.1l0.61,1.19l1.19,0.61l-1.19,0.61l-0.61,1.19l-0.61,-1.19l-1.19,-0.61l1.19,-0.61zM256.3,102.4l0.61,1.19l1.19,0.61l-1.19,0.61l-0.61,1.19l-0.61,-1.19l-1.19,-0.61l1.19,-0.61zM258.3,103.7l0.61,1.19l1.19,0.61l-1.19,0.61l-0.61,1.19l-0.61,-1.19l-1.19,-0.61l1.19,-0.61zM260.3,105.0l0.61,1.19l1.19,0.61l-1.19,0.61l-0.61,1.19l-0.61,-1.19l-1.19,-0.61l1.19,-0.61zM262.3,106.3l0.61,1.19l1.19,0.61l-1.19,0.61l-0.61,1.19l-0.61,-1.19l-1.19,-0.61l1.19,-0.61zM264.4,107.6l0.61,1.19l1.19,0.61l-1.19,0.61l-0.61,1.19l-0.61,-1.19l-1.19,-0.61l1.19,-0.61zM265.9,119.7l0.61,1.19l1.19,0.61l-1.19,0.61l-0.61,1.19l-0.61,-1.19l-1.19,-0.61l1.19,-0.61zM268.4,121.1l0.61,1.19l1.19,0.61l-1.19,0.61l-0.61,1.19l-0.61,-1.19l-1.19,-0.61l1.19,-0.61zM270.1,111.7l0.61,1.19l1.19,0.61l-1.19,0.61l-0.61,1.19l-0.61,-1.19l-1.19,-0.61l1.19,-0.61zM272.3,113.4l0.61,1.19l1.19,0.61l-1.19,0.61l-0.61,1.19l-0.61,-1.19l-1.19,-0.61l1.19,-0.61zM274.6,124.6l0.61,1.19l1.19,0.61l-1.19,0.61l-0.61,1.19l-0.61,-1.19l-1.19,-0.61l1.19,-0.61zM276.3,116.1l0.61,1.19l1.19,0.61l-1.19,0.61l-0.61,1.19l-0.61,-1.19l-1.19,-0.61l1.19,-0.61zM278.2,117.7l0.61,1.19l1.19,0.61l-1.19,0.61l-0.61,1.19l-0.61,-1.19l-1.19,-0.61l1.19,-0.61zM280.2,119.3l0.61,1.19l1.19,0.61l-1.19,0.61l-0.61,1.19l-0.61,-1.19l-1.19,-0.61l1.19,-0.61zM282.2,121.0l0.61,1.19l1.19,0.61l-1.19,0.61l-0.61,1.19l-0.61,-1.19l-1.19,-0.61l1.19,-0.61zM284.2,122.6l0.61,1.19l1.19,0.61l-1.19,0.61l-0.61,1.19l-0.61,-1.19l-1.19,-0.61l1.19,-0.61zM286.2,124.3l0.61,1.19l1.19,0.61l-1.19,0.61l-0.61,1.19l-0.61,-1.19l-1.19,-0.61l1.19,-0.61zM288.2,126.1l0.61,1.19l1.19,0.61l-1.19,0.61l-0.61,1.19l-0.61,-1.19l-1.19,-0.61l1.19,-0.61zM290.2,127.8l0.61,1.19l1.19,0.61l-1.19,0.61l-0.61,1.19l-0.61,-1.19l-1.19,-0.61l1.19,-0.61zM292.2,129.5l0.61,1.19l1.19,0.61l-1.19,0.61l-0.61,1.19l-0.61,-1.19l-1.19,-0.61l1.19,-0.61zM294.2,131.2l0.61,1.19l1.19,0.61l-1.19,0.61l-0.61,1.19l-0.61,-1.19l-1.19,-0.61l1.19,-0.61zM296.1,133.0l0.61,1.19l1.19,0.61l-1.19,0.61l-0.61,1.19l-0.61,-1.19l-1.19,-0.61l1.19,-0.61zM298.1,134.7l0.61,1.19l1.19,0.61l-1.19,0.61l-0.61,1.19l-0.61,-1.19l-1.19,-0.61l1.19,-0.61zM300.1,136.4l0.61,1.19l1.19,0.61l-1.19,0.61l-0.61,1.19l-0.61,-1.19l-1.19,-0.61l1.19,-0.61zM301.7,137.8l0.61,1.19l1.19,0.61l-1.19,0.61l-0.61,1.19l-0.61,-1.19l-1.19,-0.61l1.19,-0.61zM303.9,144.3l0.61,1.19l1.19,0.61l-1.19,0.61l-0.61,1.19l-0.61,-1.19l-1.19,-0.61l1.19,-0.61zM306.6,142.7l0.61,1.19l1.19,0.61l-1.19,0.61l-0.61,1.19l-0.61,-1.19l-1.19,-0.61l1.19,-0.61zM308.1,144.7l0.61,1.19l1.19,0.61l-1.19,0.61l-0.61,1.19l-0.61,-1.19l-1.19,-0.61l1.19,-0.61zM310.1,147.3l0.61,1.19l1.19,0.61l-1.19,0.61l-0.61,1.19l-0.61,-1.19l-1.19,-0.61l1.19,-0.61zM312.1,149.5l0.61,1.19l1.19,0.61l-1.19,0.61l-0.61,1.19l-0.61,-1.19l-1.19,-0.61l1.19,-0.61zM314.1,151.5l0.61,1.19l1.19,0.61l-1.19,0.61l-0.61,1.19l-0.61,-1.19l-1.19,-0.61l1.19,-0.61zM316.1,153.6l0.61,1.19l1.19,0.61l-1.19,0.61l-0.61,1.19l-0.61,-1.19l-1.19,-0.61l1.19,-0.61zM318.1,155.6l0.61,1.19l1.19,0.61l-1.19,0.61l-0.61,1.19l-0.61,-1.19l-1.19,-0.61l1.19,-0.61zM320.0,157.6l0.61,1.19l1.19,0.61l-1.19,0.61l-0.61,1.19l-0.61,-1.19l-1.19,-0.61l1.19,-0.61zM322.0,159.7l0.61,1.19l1.19,0.61l-1.19,0.61l-0.61,1.19l-0.61,-1.19l-1.19,-0.61l1.19,-0.61zM324.0,162.3l0.61,1.19l1.19,0.61l-1.19,0.61l-0.61,1.19l-0.61,-1.19l-1.19,-0.61l1.19,-0.61zM326.0,164.9l0.61,1.19l1.19,0.61l-1.19,0.61l-0.61,1.19l-0.61,-1.19l-1.19,-0.61l1.19,-0.61zM328.0,167.5l0.61,1.19l1.19,0.61l-1.19,0.61l-0.61,1.19l-0.61,-1.19l-1.19,-0.61l1.19,-0.61zM330.0,169.7l0.61,1.19l1.19,0.61l-1.19,0.61l-0.61,1.19l-0.61,-1.19l-1.19,-0.61l1.19,-0.61zM332.0,172.0l0.61,1.19l1.19,0.61l-1.19,0.61l-0.61,1.19l-0.61,-1.19l-1.19,-0.61l1.19,-0.61zM334.0,174.2l0.61,1.19l1.19,0.61l-1.19,0.61l-0.61,1.19l-0.61,-1.19l-1.19,-0.61l1.19,-0.61zM336.0,176.4l0.61,1.19l1.19,0.61l-1.19,0.61l-0.61,1.19l-0.61,-1.19l-1.19,-0.61l1.19,-0.61zM338.0,178.7l0.61,1.19l1.19,0.61l-1.19,0.61l-0.61,1.19l-0.61,-1.19l-1.19,-0.61l1.19,-0.61zM340.0,180.9l0.61,1.19l1.19,0.61l-1.19,0.61l-0.61,1.19l-0.61,-1.19l-1.19,-0.61l1.19,-0.61zM342.0,183.1l0.61,1.19l1.19,0.61l-1.19,0.61l-0.61,1.19l-0.61,-1.19l-1.19,-0.61l1.19,-0.61zM344.0,185.6l0.61,1.19l1.19,0.61l-1.19,0.61l-0.61,1.19l-0.61,-1.19l-1.19,-0.61l1.19,-0.61zM345.9,188.2l0.61,1.19l1.19,0.61l-1.19,0.61l-0.61,1.19l-0.61,-1.19l-1.19,-0.61l1.19,-0.61zM347.9,190.8l0.61,1.19l1.19,0.61l-1.19,0.61l-0.61,1.19l-0.61,-1.19l-1.19,-0.61l1.19,-0.61zM349.9,193.3l0.61,1.19l1.19,0.61l-1.19,0.61l-0.61,1.19l-0.61,-1.19l-1.19,-0.61l1.19,-0.61zM351.9,195.9l0.61,1.19l1.19,0.61l-1.19,0.61l-0.61,1.19l-0.61,-1.19l-1.19,-0.61l1.19,-0.61zM353.9,198.5l0.61,1.19l1.19,0.61l-1.19,0.61l-0.61,1.19l-0.61,-1.19l-1.19,-0.61l1.19,-0.61zM355.9,200.9l0.61,1.19l1.19,0.61l-1.19,0.61l-0.61,1.19l-0.61,-1.19l-1.19,-0.61l1.19,-0.61zM357.9,203.4l0.61,1.19l1.19,0.61l-1.19,0.61l-0.61,1.19l-0.61,-1.19l-1.19,-0.61l1.19,-0.61zM359.9,205.8l0.61,1.19l1.19,0.61l-1.19,0.61l-0.61,1.19l-0.61,-1.19l-1.19,-0.61l1.19,-0.61zM361.9,208.3l0.61,1.19l1.19,0.61l-1.19,0.61l-0.61,1.19l-0.61,-1.19l-1.19,-0.61l1.19,-0.61zM363.9,210.8l0.61,1.19l1.19,0.61l-1.19,0.61l-0.61,1.19l-0.61,-1.19l-1.19,-0.61l1.19,-0.61zM365.9,213.2l0.61,1.19l1.19,0.61l-1.19,0.61l-0.61,1.19l-0.61,-1.19l-1.19,-0.61l1.19,-0.61zM367.9,215.7l0.61,1.19l1.19,0.61l-1.19,0.61l-0.61,1.19l-0.61,-1.19l-1.19,-0.61l1.19,-0.61zM369.8,218.1l0.61,1.19l1.19,0.61l-1.19,0.61l-0.61,1.19l-0.61,-1.19l-1.19,-0.61l1.19,-0.61zM371.8,220.6l0.61,1.19l1.19,0.61l-1.19,0.61l-0.61,1.19l-0.61,-1.19l-1.19,-0.61l1.19,-0.61zM373.8,223.1l0.61,1.19l1.19,0.61l-1.19,0.61l-0.61,1.19l-0.61,-1.19l-1.19,-0.61l1.19,-0.61zM375.8,225.5l0.61,1.19l1.19,0.61l-1.19,0.61l-0.61,1.19l-0.61,-1.19l-1.19,-0.61l1.19,-0.61zM377.8,228.0l0.61,1.19l1.19,0.61l-1.19,0.61l-0.61,1.19l-0.61,-1.19l-1.19,-0.61l1.19,-0.61zM379.8,230.1l0.61,1.19l1.19,0.61l-1.19,0.61l-0.61,1.19l-0.61,-1.19l-1.19,-0.61l1.19,-0.61zM381.8,232.3l0.61,1.19l1.19,0.61l-1.19,0.61l-0.61,1.19l-0.61,-1.19l-1.19,-0.61l1.19,-0.61zM383.8,234.6l0.61,1.19l1.19,0.61l-1.19,0.61l-0.61,1.19l-0.61,-1.19l-1.19,-0.61l1.19,-0.61zM385.8,237.1l0.61,1.19l1.19,0.61l-1.19,0.61l-0.61,1.19l-0.61,-1.19l-1.19,-0.61l1.19,-0.61zM387.8,239.7l0.61,1.19l1.19,0.61l-1.19,0.61l-0.61,1.19l-0.61,-1.19l-1.19,-0.61l1.19,-0.61zM389.8,242.2l0.61,1.19l1.19,0.61l-1.19,0.61l-0.61,1.19l-0.61,-1.19l-1.19,-0.61l1.19,-0.61zM391.8,244.7l0.61,1.19l1.19,0.61l-1.19,0.61l-0.61,1.19l-0.61,-1.19l-1.19,-0.61l1.19,-0.61zM393.8,247.3l0.61,1.19l1.19,0.61l-1.19,0.61l-0.61,1.19l-0.61,-1.19l-1.19,-0.61l1.19,-0.61zM395.8,249.9l0.61,1.19l1.19,0.61l-1.19,0.61l-0.61,1.19l-0.61,-1.19l-1.19,-0.61l1.19,-0.61zM397.8,214.2l0.61,1.19l1.19,0.61l-1.19,0.61l-0.61,1.19l-0.61,-1.19l-1.19,-0.61l1.19,-0.61zM399.6,251.5l0.61,1.19l1.19,0.61l-1.19,0.61l-0.61,1.19l-0.61,-1.19l-1.19,-0.61l1.19,-0.61zM401.7,253.6l0.61,1.19l1.19,0.61l-1.19,0.61l-0.61,1.19l-0.61,-1.19l-1.19,-0.61l1.19,-0.61zM403.7,257.0l0.61,1.19l1.19,0.61l-1.19,0.61l-0.61,1.19l-0.61,-1.19l-1.19,-0.61l1.19,-0.61zM405.7,260.9l0.61,1.19l1.19,0.61l-1.19,0.61l-0.61,1.19l-0.61,-1.19l-1.19,-0.61l1.19,-0.61zM407.7,264.6l0.61,1.19l1.19,0.61l-1.19,0.61l-0.61,1.19l-0.61,-1.19l-1.19,-0.61l1.19,-0.61zM409.7,267.9l0.61,1.19l1.19,0.61l-1.19,0.61l-0.61,1.19l-0.61,-1.19l-1.19,-0.61l1.19,-0.61zM411.7,271.2l0.61,1.19l1.19,0.61l-1.19,0.61l-0.61,1.19l-0.61,-1.19l-1.19,-0.61l1.19,-0.61zM413.7,274.5l0.61,1.19l1.19,0.61l-1.19,0.61l-0.61,1.19l-0.61,-1.19l-1.19,-0.61l1.19,-0.61zM415.0,276.7l0.61,1.19l1.19,0.61l-1.19,0.61l-0.61,1.19l-0.61,-1.19l-1.19,-0.61l1.19,-0.61z" fill="#C8490A"/>
</g>
<path d="M473.5,38.5V284.9M805.5,38.5V284.9M473.0,39.0H806.0M473.0,284.4H806.0" fill="none" stroke="#2a2a2a" stroke-width="1"/>
<path d="M473.50,284.4v-5.6000000000000005M473.50,39.0v5.2M480.14,284.4v-3.0M480.14,39.0v2.6M486.78,284.4v-3.0M486.78,39.0v2.6M493.42,284.4v-3.0M493.42,39.0v2.6M500.06,284.4v-3.0M500.06,39.0v2.6M506.70,284.4v-3.0M506.70,39.0v2.6M513.34,284.4v-3.0M513.34,39.0v2.6M519.98,284.4v-3.0M519.98,39.0v2.6M526.62,284.4v-3.0M526.62,39.0v2.6M533.26,284.4v-3.0M533.26,39.0v2.6M539.90,284.4v-5.6000000000000005M539.90,39.0v5.2M546.54,284.4v-3.0M546.54,39.0v2.6M553.18,284.4v-3.0M553.18,39.0v2.6M559.82,284.4v-3.0M559.82,39.0v2.6M566.46,284.4v-3.0M566.46,39.0v2.6M573.10,284.4v-3.0M573.10,39.0v2.6M579.74,284.4v-3.0M579.74,39.0v2.6M586.38,284.4v-3.0M586.38,39.0v2.6M593.02,284.4v-3.0M593.02,39.0v2.6M599.66,284.4v-3.0M599.66,39.0v2.6M606.30,284.4v-5.6000000000000005M606.30,39.0v5.2M612.94,284.4v-3.0M612.94,39.0v2.6M619.58,284.4v-3.0M619.58,39.0v2.6M626.22,284.4v-3.0M626.22,39.0v2.6M632.86,284.4v-3.0M632.86,39.0v2.6M639.50,284.4v-3.0M639.50,39.0v2.6M646.14,284.4v-3.0M646.14,39.0v2.6M652.78,284.4v-3.0M652.78,39.0v2.6M659.42,284.4v-3.0M659.42,39.0v2.6M666.06,284.4v-3.0M666.06,39.0v2.6M672.70,284.4v-5.6000000000000005M672.70,39.0v5.2M679.34,284.4v-3.0M679.34,39.0v2.6M685.98,284.4v-3.0M685.98,39.0v2.6M692.62,284.4v-3.0M692.62,39.0v2.6M699.26,284.4v-3.0M699.26,39.0v2.6M705.90,284.4v-3.0M705.90,39.0v2.6M712.54,284.4v-3.0M712.54,39.0v2.6M719.18,284.4v-3.0M719.18,39.0v2.6M725.82,284.4v-3.0M725.82,39.0v2.6M732.46,284.4v-3.0M732.46,39.0v2.6M739.10,284.4v-5.6000000000000005M739.10,39.0v5.2M745.74,284.4v-3.0M745.74,39.0v2.6M752.38,284.4v-3.0M752.38,39.0v2.6M759.02,284.4v-3.0M759.02,39.0v2.6M765.66,284.4v-3.0M765.66,39.0v2.6M772.30,284.4v-3.0M772.30,39.0v2.6M778.94,284.4v-3.0M778.94,39.0v2.6M785.58,284.4v-3.0M785.58,39.0v2.6M792.22,284.4v-3.0M792.22,39.0v2.6M798.86,284.4v-3.0M798.86,39.0v2.6M805.50,284.4v-5.6000000000000005M805.50,39.0v5.2M473.5,88.00h6.8M805.5,88.00h-6.8M473.5,137.00h6.8M805.5,137.00h-6.8M473.5,186.00h6.8M805.5,186.00h-6.8M473.5,235.00h6.8M805.5,235.00h-6.8M473.5,48.80h3.4M805.5,48.80h-3.4M473.5,58.60h3.4M805.5,58.60h-3.4M473.5,68.40h3.4M805.5,68.40h-3.4M473.5,78.20h3.4M805.5,78.20h-3.4M473.5,97.80h3.4M805.5,97.80h-3.4M473.5,107.60h3.4M805.5,107.60h-3.4M473.5,117.40h3.4M805.5,117.40h-3.4M473.5,127.20h3.4M805.5,127.20h-3.4M473.5,146.80h3.4M805.5,146.80h-3.4M473.5,156.60h3.4M805.5,156.60h-3.4M473.5,166.40h3.4M805.5,166.40h-3.4M473.5,176.20h3.4M805.5,176.20h-3.4M473.5,195.80h3.4M805.5,195.80h-3.4M473.5,205.60h3.4M805.5,205.60h-3.4M473.5,215.40h3.4M805.5,215.40h-3.4M473.5,225.20h3.4M805.5,225.20h-3.4M473.5,244.80h3.4M805.5,244.80h-3.4M473.5,254.60h3.4M805.5,254.60h-3.4M473.5,264.40h3.4M805.5,264.40h-3.4M473.5,274.20h3.4M805.5,274.20h-3.4" stroke="#2a2a2a" stroke-width="0.85" fill="none"/>
<text x="469.4" y="303.5" font-size="13.9" fill="#262626" textLength="8.2" lengthAdjust="spacingAndGlyphs">0</text>
<text x="531.8" y="303.5" font-size="13.9" fill="#262626" textLength="16.2" lengthAdjust="spacingAndGlyphs">10</text>
<text x="598.2" y="303.5" font-size="13.9" fill="#262626" textLength="16.2" lengthAdjust="spacingAndGlyphs">20</text>
<text x="664.6" y="303.5" font-size="13.9" fill="#262626" textLength="16.2" lengthAdjust="spacingAndGlyphs">30</text>
<text x="731.0" y="303.5" font-size="13.9" fill="#262626" textLength="16.2" lengthAdjust="spacingAndGlyphs">40</text>
<text x="797.4" y="303.5" font-size="13.9" fill="#262626" textLength="16.2" lengthAdjust="spacingAndGlyphs">50</text>
<text x="448.3" y="48.0" font-size="13.9" fill="#262626" textLength="20.6" lengthAdjust="spacingAndGlyphs">3.0</text>
<text x="448.3" y="92.9" font-size="13.9" fill="#262626" textLength="20.6" lengthAdjust="spacingAndGlyphs">2.5</text>
<text x="448.3" y="141.9" font-size="13.9" fill="#262626" textLength="20.6" lengthAdjust="spacingAndGlyphs">2.0</text>
<text x="448.3" y="190.9" font-size="13.9" fill="#262626" textLength="20.6" lengthAdjust="spacingAndGlyphs">1.5</text>
<text x="448.3" y="239.9" font-size="13.9" fill="#262626" textLength="20.6" lengthAdjust="spacingAndGlyphs">1.0</text>
<text x="448.3" y="284.1" font-size="13.9" fill="#262626" textLength="20.6" lengthAdjust="spacingAndGlyphs">0.5</text>
<g clip-path="url(#c2)">
<path d="M471.8,235H805.5" stroke="#1a1a1a" stroke-width="1.3" stroke-dasharray="4.2 3.3" fill="none"/>
<polyline points="473.5,234.7 475.5,234.7 477.5,234.6 479.5,234.6 481.5,234.1 483.5,233.1 485.5,231.0 487.4,213.5 489.4,238.1 491.4,242.8 493.4,245.2 495.4,230.3 497.4,221.2 499.4,209.3 501.4,195.9 503.4,183.4 505.4,171.9 507.4,162.3 509.4,151.1 511.3,139.0 513.3,128.5 515.3,117.7 517.3,104.0 519.3,90.2 521.3,80.0 523.3,67.3 525.3,55.5 527.3,47.0 529.3,43.5 531.3,43.5 533.3,46.0 535.3,56.7 537.2,71.7 539.2,92.0 541.2,112.2 543.2,132.2 545.2,149.1 547.2,163.3 549.2,176.1 551.2,187.9 553.2,200.3 555.2,211.1 557.2,219.8 559.2,226.4 561.1,230.3 563.1,232.9 565.1,234.2 567.1,234.1 569.1,232.6 571.1,230.3 573.1,227.4 575.1,224.4 577.1,221.5 579.1,218.4 581.1,215.4 583.1,212.3 585.1,209.5 587.0,206.7 589.0,203.8 591.0,200.8 593.0,198.0 595.0,195.4 597.0,192.9 598.8,190.9 601.0,192.0 603.0,200.0 604.6,206.3 607.0,195.3 608.7,193.9 610.9,195.5 612.9,196.9 614.9,198.4 616.9,199.9 618.9,201.4 620.9,202.6 622.9,203.8 624.9,205.0 626.9,206.1 628.9,206.9 630.9,207.7 632.9,208.5 634.9,209.2 636.8,209.8 638.8,210.4 640.8,211.0 642.8,211.6 644.8,212.2 646.8,212.8 648.8,213.3 650.8,213.7 652.8,214.1 654.8,214.5 656.8,214.9 658.8,215.3 660.7,215.7 662.7,216.1 664.7,216.5 666.7,216.9 668.7,217.3 670.7,217.7 672.7,218.1 674.7,218.5 676.7,218.9 678.7,219.3 680.7,219.7 682.7,220.1 684.7,220.5 686.6,220.9 688.6,221.3 690.6,221.7 692.6,222.1 694.6,222.5 696.6,222.9 698.6,223.3 700.6,223.7 702.6,224.1 704.6,224.5 706.6,224.9 708.6,225.3 710.5,225.7 712.5,226.2 714.5,226.7 716.5,227.2 718.5,227.6 720.5,228.1 722.5,228.6 724.5,229.1 726.5,229.5 728.5,230.0 730.5,230.5 732.5,231.0 734.5,231.4 736.4,231.9 738.4,232.4 740.4,232.8 742.4,233.3 744.4,233.8 746.4,234.3 748.4,234.7 750.4,235.2 752.4,235.6 754.4,236.0 756.4,236.4 758.4,236.8 760.3,237.3 762.3,237.7 764.3,238.1 766.3,238.5 768.3,239.0 770.3,239.4 772.3,239.8 774.3,240.2 776.3,240.6 778.3,241.1 780.3,241.5 782.3,241.9 784.3,242.3 786.2,242.8 788.2,243.2 790.2,243.6 792.2,244.0 794.2,244.4 796.2,244.9 798.2,245.3 800.2,245.7 802.2,246.1 804.2,246.5 805.5,246.8" fill="none" stroke="#1FAEC6" stroke-width="1"/>
<path d="M471.7,234.7a1.8,1.8 0 1,0 3.6,0a1.8,1.8 0 1,0 -3.6,0zM473.7,234.7a1.8,1.8 0 1,0 3.6,0a1.8,1.8 0 1,0 -3.6,0zM475.7,234.6a1.8,1.8 0 1,0 3.6,0a1.8,1.8 0 1,0 -3.6,0zM477.7,234.6a1.8,1.8 0 1,0 3.6,0a1.8,1.8 0 1,0 -3.6,0zM479.7,234.1a1.8,1.8 0 1,0 3.6,0a1.8,1.8 0 1,0 -3.6,0zM481.7,233.1a1.8,1.8 0 1,0 3.6,0a1.8,1.8 0 1,0 -3.6,0zM483.7,231.0a1.8,1.8 0 1,0 3.6,0a1.8,1.8 0 1,0 -3.6,0zM485.6,213.5a1.8,1.8 0 1,0 3.6,0a1.8,1.8 0 1,0 -3.6,0zM487.6,238.1a1.8,1.8 0 1,0 3.6,0a1.8,1.8 0 1,0 -3.6,0zM489.6,242.8a1.8,1.8 0 1,0 3.6,0a1.8,1.8 0 1,0 -3.6,0zM491.6,245.2a1.8,1.8 0 1,0 3.6,0a1.8,1.8 0 1,0 -3.6,0zM493.6,230.3a1.8,1.8 0 1,0 3.6,0a1.8,1.8 0 1,0 -3.6,0zM495.6,221.2a1.8,1.8 0 1,0 3.6,0a1.8,1.8 0 1,0 -3.6,0zM497.6,209.3a1.8,1.8 0 1,0 3.6,0a1.8,1.8 0 1,0 -3.6,0zM499.6,195.9a1.8,1.8 0 1,0 3.6,0a1.8,1.8 0 1,0 -3.6,0zM501.6,183.4a1.8,1.8 0 1,0 3.6,0a1.8,1.8 0 1,0 -3.6,0zM503.6,171.9a1.8,1.8 0 1,0 3.6,0a1.8,1.8 0 1,0 -3.6,0zM505.6,162.3a1.8,1.8 0 1,0 3.6,0a1.8,1.8 0 1,0 -3.6,0zM507.6,151.1a1.8,1.8 0 1,0 3.6,0a1.8,1.8 0 1,0 -3.6,0zM509.5,139.0a1.8,1.8 0 1,0 3.6,0a1.8,1.8 0 1,0 -3.6,0zM511.5,128.5a1.8,1.8 0 1,0 3.6,0a1.8,1.8 0 1,0 -3.6,0zM513.5,117.7a1.8,1.8 0 1,0 3.6,0a1.8,1.8 0 1,0 -3.6,0zM515.5,104.0a1.8,1.8 0 1,0 3.6,0a1.8,1.8 0 1,0 -3.6,0zM517.5,90.2a1.8,1.8 0 1,0 3.6,0a1.8,1.8 0 1,0 -3.6,0zM519.5,80.0a1.8,1.8 0 1,0 3.6,0a1.8,1.8 0 1,0 -3.6,0zM521.5,67.3a1.8,1.8 0 1,0 3.6,0a1.8,1.8 0 1,0 -3.6,0zM523.5,55.5a1.8,1.8 0 1,0 3.6,0a1.8,1.8 0 1,0 -3.6,0zM525.5,47.0a1.8,1.8 0 1,0 3.6,0a1.8,1.8 0 1,0 -3.6,0zM527.5,43.5a1.8,1.8 0 1,0 3.6,0a1.8,1.8 0 1,0 -3.6,0zM529.5,43.5a1.8,1.8 0 1,0 3.6,0a1.8,1.8 0 1,0 -3.6,0zM531.5,46.0a1.8,1.8 0 1,0 3.6,0a1.8,1.8 0 1,0 -3.6,0zM533.5,56.7a1.8,1.8 0 1,0 3.6,0a1.8,1.8 0 1,0 -3.6,0zM535.4,71.7a1.8,1.8 0 1,0 3.6,0a1.8,1.8 0 1,0 -3.6,0zM537.4,92.0a1.8,1.8 0 1,0 3.6,0a1.8,1.8 0 1,0 -3.6,0zM539.4,112.2a1.8,1.8 0 1,0 3.6,0a1.8,1.8 0 1,0 -3.6,0zM541.4,132.2a1.8,1.8 0 1,0 3.6,0a1.8,1.8 0 1,0 -3.6,0zM543.4,149.1a1.8,1.8 0 1,0 3.6,0a1.8,1.8 0 1,0 -3.6,0zM545.4,163.3a1.8,1.8 0 1,0 3.6,0a1.8,1.8 0 1,0 -3.6,0zM547.4,176.1a1.8,1.8 0 1,0 3.6,0a1.8,1.8 0 1,0 -3.6,0zM549.4,187.9a1.8,1.8 0 1,0 3.6,0a1.8,1.8 0 1,0 -3.6,0zM551.4,200.3a1.8,1.8 0 1,0 3.6,0a1.8,1.8 0 1,0 -3.6,0zM553.4,211.1a1.8,1.8 0 1,0 3.6,0a1.8,1.8 0 1,0 -3.6,0zM555.4,219.8a1.8,1.8 0 1,0 3.6,0a1.8,1.8 0 1,0 -3.6,0zM557.4,226.4a1.8,1.8 0 1,0 3.6,0a1.8,1.8 0 1,0 -3.6,0zM559.3,230.3a1.8,1.8 0 1,0 3.6,0a1.8,1.8 0 1,0 -3.6,0zM561.3,232.9a1.8,1.8 0 1,0 3.6,0a1.8,1.8 0 1,0 -3.6,0zM563.3,234.2a1.8,1.8 0 1,0 3.6,0a1.8,1.8 0 1,0 -3.6,0zM565.3,234.1a1.8,1.8 0 1,0 3.6,0a1.8,1.8 0 1,0 -3.6,0zM567.3,232.6a1.8,1.8 0 1,0 3.6,0a1.8,1.8 0 1,0 -3.6,0zM569.3,230.3a1.8,1.8 0 1,0 3.6,0a1.8,1.8 0 1,0 -3.6,0zM571.3,227.4a1.8,1.8 0 1,0 3.6,0a1.8,1.8 0 1,0 -3.6,0zM573.3,224.4a1.8,1.8 0 1,0 3.6,0a1.8,1.8 0 1,0 -3.6,0zM575.3,221.5a1.8,1.8 0 1,0 3.6,0a1.8,1.8 0 1,0 -3.6,0zM577.3,218.4a1.8,1.8 0 1,0 3.6,0a1.8,1.8 0 1,0 -3.6,0zM579.3,215.4a1.8,1.8 0 1,0 3.6,0a1.8,1.8 0 1,0 -3.6,0zM581.3,212.3a1.8,1.8 0 1,0 3.6,0a1.8,1.8 0 1,0 -3.6,0zM583.3,209.5a1.8,1.8 0 1,0 3.6,0a1.8,1.8 0 1,0 -3.6,0zM585.2,206.7a1.8,1.8 0 1,0 3.6,0a1.8,1.8 0 1,0 -3.6,0zM587.2,203.8a1.8,1.8 0 1,0 3.6,0a1.8,1.8 0 1,0 -3.6,0zM589.2,200.8a1.8,1.8 0 1,0 3.6,0a1.8,1.8 0 1,0 -3.6,0zM591.2,198.0a1.8,1.8 0 1,0 3.6,0a1.8,1.8 0 1,0 -3.6,0zM593.2,195.4a1.8,1.8 0 1,0 3.6,0a1.8,1.8 0 1,0 -3.6,0zM595.2,192.9a1.8,1.8 0 1,0 3.6,0a1.8,1.8 0 1,0 -3.6,0zM597.0,190.9a1.8,1.8 0 1,0 3.6,0a1.8,1.8 0 1,0 -3.6,0zM599.2,192.0a1.8,1.8 0 1,0 3.6,0a1.8,1.8 0 1,0 -3.6,0zM601.2,200.0a1.8,1.8 0 1,0 3.6,0a1.8,1.8 0 1,0 -3.6,0zM602.8,206.3a1.8,1.8 0 1,0 3.6,0a1.8,1.8 0 1,0 -3.6,0zM605.2,195.3a1.8,1.8 0 1,0 3.6,0a1.8,1.8 0 1,0 -3.6,0zM606.9,193.9a1.8,1.8 0 1,0 3.6,0a1.8,1.8 0 1,0 -3.6,0zM609.1,195.5a1.8,1.8 0 1,0 3.6,0a1.8,1.8 0 1,0 -3.6,0zM611.1,196.9a1.8,1.8 0 1,0 3.6,0a1.8,1.8 0 1,0 -3.6,0zM613.1,198.4a1.8,1.8 0 1,0 3.6,0a1.8,1.8 0 1,0 -3.6,0zM615.1,199.9a1.8,1.8 0 1,0 3.6,0a1.8,1.8 0 1,0 -3.6,0zM617.1,201.4a1.8,1.8 0 1,0 3.6,0a1.8,1.8 0 1,0 -3.6,0zM619.1,202.6a1.8,1.8 0 1,0 3.6,0a1.8,1.8 0 1,0 -3.6,0zM621.1,203.8a1.8,1.8 0 1,0 3.6,0a1.8,1.8 0 1,0 -3.6,0zM623.1,205.0a1.8,1.8 0 1,0 3.6,0a1.8,1.8 0 1,0 -3.6,0zM625.1,206.1a1.8,1.8 0 1,0 3.6,0a1.8,1.8 0 1,0 -3.6,0zM627.1,206.9a1.8,1.8 0 1,0 3.6,0a1.8,1.8 0 1,0 -3.6,0zM629.1,207.7a1.8,1.8 0 1,0 3.6,0a1.8,1.8 0 1,0 -3.6,0zM631.1,208.5a1.8,1.8 0 1,0 3.6,0a1.8,1.8 0 1,0 -3.6,0zM633.1,209.2a1.8,1.8 0 1,0 3.6,0a1.8,1.8 0 1,0 -3.6,0zM635.0,209.8a1.8,1.8 0 1,0 3.6,0a1.8,1.8 0 1,0 -3.6,0zM637.0,210.4a1.8,1.8 0 1,0 3.6,0a1.8,1.8 0 1,0 -3.6,0zM639.0,211.0a1.8,1.8 0 1,0 3.6,0a1.8,1.8 0 1,0 -3.6,0zM641.0,211.6a1.8,1.8 0 1,0 3.6,0a1.8,1.8 0 1,0 -3.6,0zM643.0,212.2a1.8,1.8 0 1,0 3.6,0a1.8,1.8 0 1,0 -3.6,0zM645.0,212.8a1.8,1.8 0 1,0 3.6,0a1.8,1.8 0 1,0 -3.6,0zM647.0,213.3a1.8,1.8 0 1,0 3.6,0a1.8,1.8 0 1,0 -3.6,0zM649.0,213.7a1.8,1.8 0 1,0 3.6,0a1.8,1.8 0 1,0 -3.6,0zM651.0,214.1a1.8,1.8 0 1,0 3.6,0a1.8,1.8 0 1,0 -3.6,0zM653.0,214.5a1.8,1.8 0 1,0 3.6,0a1.8,1.8 0 1,0 -3.6,0zM655.0,214.9a1.8,1.8 0 1,0 3.6,0a1.8,1.8 0 1,0 -3.6,0zM657.0,215.3a1.8,1.8 0 1,0 3.6,0a1.8,1.8 0 1,0 -3.6,0zM658.9,215.7a1.8,1.8 0 1,0 3.6,0a1.8,1.8 0 1,0 -3.6,0zM660.9,216.1a1.8,1.8 0 1,0 3.6,0a1.8,1.8 0 1,0 -3.6,0zM662.9,216.5a1.8,1.8 0 1,0 3.6,0a1.8,1.8 0 1,0 -3.6,0zM664.9,216.9a1.8,1.8 0 1,0 3.6,0a1.8,1.8 0 1,0 -3.6,0zM666.9,217.3a1.8,1.8 0 1,0 3.6,0a1.8,1.8 0 1,0 -3.6,0zM668.9,217.7a1.8,1.8 0 1,0 3.6,0a1.8,1.8 0 1,0 -3.6,0zM670.9,218.1a1.8,1.8 0 1,0 3.6,0a1.8,1.8 0 1,0 -3.6,0zM672.9,218.5a1.8,1.8 0 1,0 3.6,0a1.8,1.8 0 1,0 -3.6,0zM674.9,218.9a1.8,1.8 0 1,0 3.6,0a1.8,1.8 0 1,0 -3.6,0zM676.9,219.3a1.8,1.8 0 1,0 3.6,0a1.8,1.8 0 1,0 -3.6,0zM678.9,219.7a1.8,1.8 0 1,0 3.6,0a1.8,1.8 0 1,0 -3.6,0zM680.9,220.1a1.8,1.8 0 1,0 3.6,0a1.8,1.8 0 1,0 -3.6,0zM682.9,220.5a1.8,1.8 0 1,0 3.6,0a1.8,1.8 0 1,0 -3.6,0zM684.8,220.9a1.8,1.8 0 1,0 3.6,0a1.8,1.8 0 1,0 -3.6,0zM686.8,221.3a1.8,1.8 0 1,0 3.6,0a1.8,1.8 0 1,0 -3.6,0zM688.8,221.7a1.8,1.8 0 1,0 3.6,0a1.8,1.8 0 1,0 -3.6,0zM690.8,222.1a1.8,1.8 0 1,0 3.6,0a1.8,1.8 0 1,0 -3.6,0zM692.8,222.5a1.8,1.8 0 1,0 3.6,0a1.8,1.8 0 1,0 -3.6,0zM694.8,222.9a1.8,1.8 0 1,0 3.6,0a1.8,1.8 0 1,0 -3.6,0zM696.8,223.3a1.8,1.8 0 1,0 3.6,0a1.8,1.8 0 1,0 -3.6,0zM698.8,223.7a1.8,1.8 0 1,0 3.6,0a1.8,1.8 0 1,0 -3.6,0zM700.8,224.1a1.8,1.8 0 1,0 3.6,0a1.8,1.8 0 1,0 -3.6,0zM702.8,224.5a1.8,1.8 0 1,0 3.6,0a1.8,1.8 0 1,0 -3.6,0zM704.8,224.9a1.8,1.8 0 1,0 3.6,0a1.8,1.8 0 1,0 -3.6,0zM706.8,225.3a1.8,1.8 0 1,0 3.6,0a1.8,1.8 0 1,0 -3.6,0zM708.7,225.7a1.8,1.8 0 1,0 3.6,0a1.8,1.8 0 1,0 -3.6,0zM710.7,226.2a1.8,1.8 0 1,0 3.6,0a1.8,1.8 0 1,0 -3.6,0zM712.7,226.7a1.8,1.8 0 1,0 3.6,0a1.8,1.8 0 1,0 -3.6,0zM714.7,227.2a1.8,1.8 0 1,0 3.6,0a1.8,1.8 0 1,0 -3.6,0zM716.7,227.6a1.8,1.8 0 1,0 3.6,0a1.8,1.8 0 1,0 -3.6,0zM718.7,228.1a1.8,1.8 0 1,0 3.6,0a1.8,1.8 0 1,0 -3.6,0zM720.7,228.6a1.8,1.8 0 1,0 3.6,0a1.8,1.8 0 1,0 -3.6,0zM722.7,229.1a1.8,1.8 0 1,0 3.6,0a1.8,1.8 0 1,0 -3.6,0zM724.7,229.5a1.8,1.8 0 1,0 3.6,0a1.8,1.8 0 1,0 -3.6,0zM726.7,230.0a1.8,1.8 0 1,0 3.6,0a1.8,1.8 0 1,0 -3.6,0zM728.7,230.5a1.8,1.8 0 1,0 3.6,0a1.8,1.8 0 1,0 -3.6,0zM730.7,231.0a1.8,1.8 0 1,0 3.6,0a1.8,1.8 0 1,0 -3.6,0zM732.7,231.4a1.8,1.8 0 1,0 3.6,0a1.8,1.8 0 1,0 -3.6,0zM734.6,231.9a1.8,1.8 0 1,0 3.6,0a1.8,1.8 0 1,0 -3.6,0zM736.6,232.4a1.8,1.8 0 1,0 3.6,0a1.8,1.8 0 1,0 -3.6,0zM738.6,232.8a1.8,1.8 0 1,0 3.6,0a1.8,1.8 0 1,0 -3.6,0zM740.6,233.3a1.8,1.8 0 1,0 3.6,0a1.8,1.8 0 1,0 -3.6,0zM742.6,233.8a1.8,1.8 0 1,0 3.6,0a1.8,1.8 0 1,0 -3.6,0zM744.6,234.3a1.8,1.8 0 1,0 3.6,0a1.8,1.8 0 1,0 -3.6,0zM746.6,234.7a1.8,1.8 0 1,0 3.6,0a1.8,1.8 0 1,0 -3.6,0zM748.6,235.2a1.8,1.8 0 1,0 3.6,0a1.8,1.8 0 1,0 -3.6,0zM750.6,235.6a1.8,1.8 0 1,0 3.6,0a1.8,1.8 0 1,0 -3.6,0zM752.6,236.0a1.8,1.8 0 1,0 3.6,0a1.8,1.8 0 1,0 -3.6,0zM754.6,236.4a1.8,1.8 0 1,0 3.6,0a1.8,1.8 0 1,0 -3.6,0zM756.6,236.8a1.8,1.8 0 1,0 3.6,0a1.8,1.8 0 1,0 -3.6,0zM758.5,237.3a1.8,1.8 0 1,0 3.6,0a1.8,1.8 0 1,0 -3.6,0zM760.5,237.7a1.8,1.8 0 1,0 3.6,0a1.8,1.8 0 1,0 -3.6,0zM762.5,238.1a1.8,1.8 0 1,0 3.6,0a1.8,1.8 0 1,0 -3.6,0zM764.5,238.5a1.8,1.8 0 1,0 3.6,0a1.8,1.8 0 1,0 -3.6,0zM766.5,239.0a1.8,1.8 0 1,0 3.6,0a1.8,1.8 0 1,0 -3.6,0zM768.5,239.4a1.8,1.8 0 1,0 3.6,0a1.8,1.8 0 1,0 -3.6,0zM770.5,239.8a1.8,1.8 0 1,0 3.6,0a1.8,1.8 0 1,0 -3.6,0zM772.5,240.2a1.8,1.8 0 1,0 3.6,0a1.8,1.8 0 1,0 -3.6,0zM774.5,240.6a1.8,1.8 0 1,0 3.6,0a1.8,1.8 0 1,0 -3.6,0zM776.5,241.1a1.8,1.8 0 1,0 3.6,0a1.8,1.8 0 1,0 -3.6,0zM778.5,241.5a1.8,1.8 0 1,0 3.6,0a1.8,1.8 0 1,0 -3.6,0zM780.5,241.9a1.8,1.8 0 1,0 3.6,0a1.8,1.8 0 1,0 -3.6,0zM782.5,242.3a1.8,1.8 0 1,0 3.6,0a1.8,1.8 0 1,0 -3.6,0zM784.4,242.8a1.8,1.8 0 1,0 3.6,0a1.8,1.8 0 1,0 -3.6,0zM786.4,243.2a1.8,1.8 0 1,0 3.6,0a1.8,1.8 0 1,0 -3.6,0zM788.4,243.6a1.8,1.8 0 1,0 3.6,0a1.8,1.8 0 1,0 -3.6,0zM790.4,244.0a1.8,1.8 0 1,0 3.6,0a1.8,1.8 0 1,0 -3.6,0zM792.4,244.4a1.8,1.8 0 1,0 3.6,0a1.8,1.8 0 1,0 -3.6,0zM794.4,244.9a1.8,1.8 0 1,0 3.6,0a1.8,1.8 0 1,0 -3.6,0zM796.4,245.3a1.8,1.8 0 1,0 3.6,0a1.8,1.8 0 1,0 -3.6,0zM798.4,245.7a1.8,1.8 0 1,0 3.6,0a1.8,1.8 0 1,0 -3.6,0zM800.4,246.1a1.8,1.8 0 1,0 3.6,0a1.8,1.8 0 1,0 -3.6,0zM802.4,246.5a1.8,1.8 0 1,0 3.6,0a1.8,1.8 0 1,0 -3.6,0zM803.7,246.8a1.8,1.8 0 1,0 3.6,0a1.8,1.8 0 1,0 -3.6,0z" fill="#1FAEC6"/>
<polyline points="473.5,234.6 475.5,234.6 477.5,234.6 479.5,234.6 481.5,234.3 483.5,233.7 485.5,232.5 487.4,227.7 489.4,237.1 491.4,240.5 493.4,242.8 495.4,234.8 497.4,231.4 499.4,227.9 501.4,224.0 503.4,220.3 505.4,217.2 507.4,214.2 509.4,211.4 511.3,208.9 513.3,206.8 515.3,204.7 517.3,202.7 519.3,200.9 521.3,199.1 523.3,197.5 525.3,196.4 527.3,195.3 529.3,194.2 531.3,193.5 533.3,192.9 535.3,192.6 537.2,194.1 539.2,196.0 541.2,198.3 543.2,201.5 545.2,205.4 547.2,209.8 549.2,214.2 551.2,218.6 553.2,223.0 555.2,227.5 557.2,231.6 559.2,235.6 561.1,238.9 563.1,240.5 565.1,241.1 567.1,241.2 569.1,240.9 571.1,240.5 573.1,240.1 575.1,239.7 577.1,239.3 579.1,238.7 581.1,238.1 583.1,237.5 585.1,236.7 587.0,235.8 589.0,234.9 591.0,234.0 593.0,233.3 595.0,232.5 597.0,231.7 599.0,231.1 601.0,230.9 603.0,230.6 605.0,228.7 607.0,217.1 609.0,212.6 610.9,211.1 612.9,210.7 614.9,210.5 616.9,210.9 618.9,211.4 620.9,211.9 622.9,212.7 624.9,213.4 626.9,214.1 628.9,214.8 630.9,215.4 632.9,216.0 634.9,216.6 636.8,217.1 638.8,217.7 640.8,218.2 642.8,218.7 644.8,219.3 646.8,219.8 648.8,220.3 650.8,220.8 652.8,221.2 654.8,221.7 656.8,222.2 658.8,222.6 660.7,223.0 662.7,223.4 664.7,223.8 666.7,224.2 668.7,224.6 670.7,225.0 672.7,225.4 674.7,225.8 676.7,226.1 678.7,226.5 680.7,226.9 682.7,227.3 684.7,227.6 686.6,228.1 688.6,228.6 690.6,229.0 692.6,229.4 694.6,229.8 696.6,230.2 698.6,230.6 700.6,231.0 702.6,231.4 704.6,231.8 706.6,232.2 708.6,232.6 710.5,233.0 712.5,233.4 714.5,233.8 716.5,234.2 718.5,234.6 720.5,235.0 722.5,235.3 724.5,235.7 726.5,236.1 728.5,236.4 730.5,236.8 732.5,237.2 734.5,237.5 736.4,237.9 738.4,238.3 740.4,238.7 742.4,239.0 744.4,239.4 746.4,239.8 748.4,240.1 750.4,240.5 752.4,240.8 754.4,241.2 756.4,241.5 758.4,241.9 760.3,242.2 762.3,242.6 764.3,242.9 766.3,243.3 768.3,243.6 770.3,244.0 772.3,244.3 774.3,244.7 776.3,245.1 778.3,245.4 780.3,245.8 782.3,246.1 784.3,246.5 786.2,246.9 787.9,248.6 790.2,247.4 792.2,247.7 794.2,248.1 796.2,248.4 798.2,248.8 800.2,249.1 802.2,249.4 804.2,249.8 805.5,250.0" fill="none" stroke="#3DBD33" stroke-width="1"/>
<path d="M473.5,232.8l0.63,1.22l1.22,0.63l-1.22,0.63l-0.63,1.22l-0.63,-1.22l-1.22,-0.63l1.22,-0.63zM475.5,232.8l0.63,1.22l1.22,0.63l-1.22,0.63l-0.63,1.22l-0.63,-1.22l-1.22,-0.63l1.22,-0.63zM477.5,232.8l0.63,1.22l1.22,0.63l-1.22,0.63l-0.63,1.22l-0.63,-1.22l-1.22,-0.63l1.22,-0.63zM479.5,232.8l0.63,1.22l1.22,0.63l-1.22,0.63l-0.63,1.22l-0.63,-1.22l-1.22,-0.63l1.22,-0.63zM481.5,232.5l0.63,1.22l1.22,0.63l-1.22,0.63l-0.63,1.22l-0.63,-1.22l-1.22,-0.63l1.22,-0.63zM483.5,231.9l0.63,1.22l1.22,0.63l-1.22,0.63l-0.63,1.22l-0.63,-1.22l-1.22,-0.63l1.22,-0.63zM485.5,230.7l0.63,1.22l1.22,0.63l-1.22,0.63l-0.63,1.22l-0.63,-1.22l-1.22,-0.63l1.22,-0.63zM487.4,225.8l0.63,1.22l1.22,0.63l-1.22,0.63l-0.63,1.22l-0.63,-1.22l-1.22,-0.63l1.22,-0.63zM489.4,235.2l0.63,1.22l1.22,0.63l-1.22,0.63l-0.63,1.22l-0.63,-1.22l-1.22,-0.63l1.22,-0.63zM491.4,238.7l0.63,1.22l1.22,0.63l-1.22,0.63l-0.63,1.22l-0.63,-1.22l-1.22,-0.63l1.22,-0.63zM493.4,241.0l0.63,1.22l1.22,0.63l-1.22,0.63l-0.63,1.22l-0.63,-1.22l-1.22,-0.63l1.22,-0.63zM495.4,233.0l0.63,1.22l1.22,0.63l-1.22,0.63l-0.63,1.22l-0.63,-1.22l-1.22,-0.63l1.22,-0.63zM497.4,229.6l0.63,1.22l1.22,0.63l-1.22,0.63l-0.63,1.22l-0.63,-1.22l-1.22,-0.63l1.22,-0.63zM499.4,226.1l0.63,1.22l1.22,0.63l-1.22,0.63l-0.63,1.22l-0.63,-1.22l-1.22,-0.63l1.22,-0.63zM501.4,222.1l0.63,1.22l1.22,0.63l-1.22,0.63l-0.63,1.22l-0.63,-1.22l-1.22,-0.63l1.22,-0.63zM503.4,218.4l0.63,1.22l1.22,0.63l-1.22,0.63l-0.63,1.22l-0.63,-1.22l-1.22,-0.63l1.22,-0.63zM505.4,215.4l0.63,1.22l1.22,0.63l-1.22,0.63l-0.63,1.22l-0.63,-1.22l-1.22,-0.63l1.22,-0.63zM507.4,212.4l0.63,1.22l1.22,0.63l-1.22,0.63l-0.63,1.22l-0.63,-1.22l-1.22,-0.63l1.22,-0.63zM509.4,209.6l0.63,1.22l1.22,0.63l-1.22,0.63l-0.63,1.22l-0.63,-1.22l-1.22,-0.63l1.22,-0.63zM511.3,207.1l0.63,1.22l1.22,0.63l-1.22,0.63l-0.63,1.22l-0.63,-1.22l-1.22,-0.63l1.22,-0.63zM513.3,205.0l0.63,1.22l1.22,0.63l-1.22,0.63l-0.63,1.22l-0.63,-1.22l-1.22,-0.63l1.22,-0.63zM515.3,202.9l0.63,1.22l1.22,0.63l-1.22,0.63l-0.63,1.22l-0.63,-1.22l-1.22,-0.63l1.22,-0.63zM517.3,200.9l0.63,1.22l1.22,0.63l-1.22,0.63l-0.63,1.22l-0.63,-1.22l-1.22,-0.63l1.22,-0.63zM519.3,199.1l0.63,1.22l1.22,0.63l-1.22,0.63l-0.63,1.22l-0.63,-1.22l-1.22,-0.63l1.22,-0.63zM521.3,197.3l0.63,1.22l1.22,0.63l-1.22,0.63l-0.63,1.22l-0.63,-1.22l-1.22,-0.63l1.22,-0.63zM523.3,195.6l0.63,1.22l1.22,0.63l-1.22,0.63l-0.63,1.22l-0.63,-1.22l-1.22,-0.63l1.22,-0.63zM525.3,194.5l0.63,1.22l1.22,0.63l-1.22,0.63l-0.63,1.22l-0.63,-1.22l-1.22,-0.63l1.22,-0.63zM527.3,193.4l0.63,1.22l1.22,0.63l-1.22,0.63l-0.63,1.22l-0.63,-1.22l-1.22,-0.63l1.22,-0.63zM529.3,192.4l0.63,1.22l1.22,0.63l-1.22,0.63l-0.63,1.22l-0.63,-1.22l-1.22,-0.63l1.22,-0.63zM531.3,191.6l0.63,1.22l1.22,0.63l-1.22,0.63l-0.63,1.22l-0.63,-1.22l-1.22,-0.63l1.22,-0.63zM533.3,191.1l0.63,1.22l1.22,0.63l-1.22,0.63l-0.63,1.22l-0.63,-1.22l-1.22,-0.63l1.22,-0.63zM535.3,190.8l0.63,1.22l1.22,0.63l-1.22,0.63l-0.63,1.22l-0.63,-1.22l-1.22,-0.63l1.22,-0.63zM537.2,192.3l0.63,1.22l1.22,0.63l-1.22,0.63l-0.63,1.22l-0.63,-1.22l-1.22,-0.63l1.22,-0.63zM539.2,194.1l0.63,1.22l1.22,0.63l-1.22,0.63l-0.63,1.22l-0.63,-1.22l-1.22,-0.63l1.22,-0.63zM541.2,196.4l0.63,1.22l1.22,0.63l-1.22,0.63l-0.63,1.22l-0.63,-1.22l-1.22,-0.63l1.22,-0.63zM543.2,199.6l0.63,1.22l1.22,0.63l-1.22,0.63l-0.63,1.22l-0.63,-1.22l-1.22,-0.63l1.22,-0.63zM545.2,203.5l0.63,1.22l1.22,0.63l-1.22,0.63l-0.63,1.22l-0.63,-1.22l-1.22,-0.63l1.22,-0.63zM547.2,207.9l0.63,1.22l1.22,0.63l-1.22,0.63l-0.63,1.22l-0.63,-1.22l-1.22,-0.63l1.22,-0.63zM549.2,212.4l0.63,1.22l1.22,0.63l-1.22,0.63l-0.63,1.22l-0.63,-1.22l-1.22,-0.63l1.22,-0.63zM551.2,216.8l0.63,1.22l1.22,0.63l-1.22,0.63l-0.63,1.22l-0.63,-1.22l-1.22,-0.63l1.22,-0.63zM553.2,221.2l0.63,1.22l1.22,0.63l-1.22,0.63l-0.63,1.22l-0.63,-1.22l-1.22,-0.63l1.22,-0.63zM555.2,225.6l0.63,1.22l1.22,0.63l-1.22,0.63l-0.63,1.22l-0.63,-1.22l-1.22,-0.63l1.22,-0.63zM557.2,229.7l0.63,1.22l1.22,0.63l-1.22,0.63l-0.63,1.22l-0.63,-1.22l-1.22,-0.63l1.22,-0.63zM559.2,233.8l0.63,1.22l1.22,0.63l-1.22,0.63l-0.63,1.22l-0.63,-1.22l-1.22,-0.63l1.22,-0.63zM561.1,237.0l0.63,1.22l1.22,0.63l-1.22,0.63l-0.63,1.22l-0.63,-1.22l-1.22,-0.63l1.22,-0.63zM563.1,238.7l0.63,1.22l1.22,0.63l-1.22,0.63l-0.63,1.22l-0.63,-1.22l-1.22,-0.63l1.22,-0.63zM565.1,239.2l0.63,1.22l1.22,0.63l-1.22,0.63l-0.63,1.22l-0.63,-1.22l-1.22,-0.63l1.22,-0.63zM567.1,239.4l0.63,1.22l1.22,0.63l-1.22,0.63l-0.63,1.22l-0.63,-1.22l-1.22,-0.63l1.22,-0.63zM569.1,239.0l0.63,1.22l1.22,0.63l-1.22,0.63l-0.63,1.22l-0.63,-1.22l-1.22,-0.63l1.22,-0.63zM571.1,238.6l0.63,1.22l1.22,0.63l-1.22,0.63l-0.63,1.22l-0.63,-1.22l-1.22,-0.63l1.22,-0.63zM573.1,238.3l0.63,1.22l1.22,0.63l-1.22,0.63l-0.63,1.22l-0.63,-1.22l-1.22,-0.63l1.22,-0.63zM575.1,237.9l0.63,1.22l1.22,0.63l-1.22,0.63l-0.63,1.22l-0.63,-1.22l-1.22,-0.63l1.22,-0.63zM577.1,237.4l0.63,1.22l1.22,0.63l-1.22,0.63l-0.63,1.22l-0.63,-1.22l-1.22,-0.63l1.22,-0.63zM579.1,236.8l0.63,1.22l1.22,0.63l-1.22,0.63l-0.63,1.22l-0.63,-1.22l-1.22,-0.63l1.22,-0.63zM581.1,236.2l0.63,1.22l1.22,0.63l-1.22,0.63l-0.63,1.22l-0.63,-1.22l-1.22,-0.63l1.22,-0.63zM583.1,235.6l0.63,1.22l1.22,0.63l-1.22,0.63l-0.63,1.22l-0.63,-1.22l-1.22,-0.63l1.22,-0.63zM585.1,234.8l0.63,1.22l1.22,0.63l-1.22,0.63l-0.63,1.22l-0.63,-1.22l-1.22,-0.63l1.22,-0.63zM587.0,233.9l0.63,1.22l1.22,0.63l-1.22,0.63l-0.63,1.22l-0.63,-1.22l-1.22,-0.63l1.22,-0.63zM589.0,233.1l0.63,1.22l1.22,0.63l-1.22,0.63l-0.63,1.22l-0.63,-1.22l-1.22,-0.63l1.22,-0.63zM591.0,232.2l0.63,1.22l1.22,0.63l-1.22,0.63l-0.63,1.22l-0.63,-1.22l-1.22,-0.63l1.22,-0.63zM593.0,231.4l0.63,1.22l1.22,0.63l-1.22,0.63l-0.63,1.22l-0.63,-1.22l-1.22,-0.63l1.22,-0.63zM595.0,230.6l0.63,1.22l1.22,0.63l-1.22,0.63l-0.63,1.22l-0.63,-1.22l-1.22,-0.63l1.22,-0.63zM597.0,229.8l0.63,1.22l1.22,0.63l-1.22,0.63l-0.63,1.22l-0.63,-1.22l-1.22,-0.63l1.22,-0.63zM599.0,229.3l0.63,1.22l1.22,0.63l-1.22,0.63l-0.63,1.22l-0.63,-1.22l-1.22,-0.63l1.22,-0.63zM601.0,229.0l0.63,1.22l1.22,0.63l-1.22,0.63l-0.63,1.22l-0.63,-1.22l-1.22,-0.63l1.22,-0.63zM603.0,228.8l0.63,1.22l1.22,0.63l-1.22,0.63l-0.63,1.22l-0.63,-1.22l-1.22,-0.63l1.22,-0.63zM605.0,226.9l0.63,1.22l1.22,0.63l-1.22,0.63l-0.63,1.22l-0.63,-1.22l-1.22,-0.63l1.22,-0.63zM607.0,215.2l0.63,1.22l1.22,0.63l-1.22,0.63l-0.63,1.22l-0.63,-1.22l-1.22,-0.63l1.22,-0.63zM609.0,210.7l0.63,1.22l1.22,0.63l-1.22,0.63l-0.63,1.22l-0.63,-1.22l-1.22,-0.63l1.22,-0.63zM610.9,209.2l0.63,1.22l1.22,0.63l-1.22,0.63l-0.63,1.22l-0.63,-1.22l-1.22,-0.63l1.22,-0.63zM612.9,208.8l0.63,1.22l1.22,0.63l-1.22,0.63l-0.63,1.22l-0.63,-1.22l-1.22,-0.63l1.22,-0.63zM614.9,208.7l0.63,1.22l1.22,0.63l-1.22,0.63l-0.63,1.22l-0.63,-1.22l-1.22,-0.63l1.22,-0.63zM616.9,209.1l0.63,1.22l1.22,0.63l-1.22,0.63l-0.63,1.22l-0.63,-1.22l-1.22,-0.63l1.22,-0.63zM618.9,209.5l0.63,1.22l1.22,0.63l-1.22,0.63l-0.63,1.22l-0.63,-1.22l-1.22,-0.63l1.22,-0.63zM620.9,210.1l0.63,1.22l1.22,0.63l-1.22,0.63l-0.63,1.22l-0.63,-1.22l-1.22,-0.63l1.22,-0.63zM622.9,210.8l0.63,1.22l1.22,0.63l-1.22,0.63l-0.63,1.22l-0.63,-1.22l-1.22,-0.63l1.22,-0.63zM624.9,211.6l0.63,1.22l1.22,0.63l-1.22,0.63l-0.63,1.22l-0.63,-1.22l-1.22,-0.63l1.22,-0.63zM626.9,212.3l0.63,1.22l1.22,0.63l-1.22,0.63l-0.63,1.22l-0.63,-1.22l-1.22,-0.63l1.22,-0.63zM628.9,212.9l0.63,1.22l1.22,0.63l-1.22,0.63l-0.63,1.22l-0.63,-1.22l-1.22,-0.63l1.22,-0.63zM630.9,213.5l0.63,1.22l1.22,0.63l-1.22,0.63l-0.63,1.22l-0.63,-1.22l-1.22,-0.63l1.22,-0.63zM632.9,214.1l0.63,1.22l1.22,0.63l-1.22,0.63l-0.63,1.22l-0.63,-1.22l-1.22,-0.63l1.22,-0.63zM634.9,214.7l0.63,1.22l1.22,0.63l-1.22,0.63l-0.63,1.22l-0.63,-1.22l-1.22,-0.63l1.22,-0.63zM636.8,215.3l0.63,1.22l1.22,0.63l-1.22,0.63l-0.63,1.22l-0.63,-1.22l-1.22,-0.63l1.22,-0.63zM638.8,215.8l0.63,1.22l1.22,0.63l-1.22,0.63l-0.63,1.22l-0.63,-1.22l-1.22,-0.63l1.22,-0.63zM640.8,216.3l0.63,1.22l1.22,0.63l-1.22,0.63l-0.63,1.22l-0.63,-1.22l-1.22,-0.63l1.22,-0.63zM642.8,216.9l0.63,1.22l1.22,0.63l-1.22,0.63l-0.63,1.22l-0.63,-1.22l-1.22,-0.63l1.22,-0.63zM644.8,217.4l0.63,1.22l1.22,0.63l-1.22,0.63l-0.63,1.22l-0.63,-1.22l-1.22,-0.63l1.22,-0.63zM646.8,217.9l0.63,1.22l1.22,0.63l-1.22,0.63l-0.63,1.22l-0.63,-1.22l-1.22,-0.63l1.22,-0.63zM648.8,218.5l0.63,1.22l1.22,0.63l-1.22,0.63l-0.63,1.22l-0.63,-1.22l-1.22,-0.63l1.22,-0.63zM650.8,218.9l0.63,1.22l1.22,0.63l-1.22,0.63l-0.63,1.22l-0.63,-1.22l-1.22,-0.63l1.22,-0.63zM652.8,219.4l0.63,1.22l1.22,0.63l-1.22,0.63l-0.63,1.22l-0.63,-1.22l-1.22,-0.63l1.22,-0.63zM654.8,219.9l0.63,1.22l1.22,0.63l-1.22,0.63l-0.63,1.22l-0.63,-1.22l-1.22,-0.63l1.22,-0.63zM656.8,220.3l0.63,1.22l1.22,0.63l-1.22,0.63l-0.63,1.22l-0.63,-1.22l-1.22,-0.63l1.22,-0.63zM658.8,220.8l0.63,1.22l1.22,0.63l-1.22,0.63l-0.63,1.22l-0.63,-1.22l-1.22,-0.63l1.22,-0.63zM660.7,221.2l0.63,1.22l1.22,0.63l-1.22,0.63l-0.63,1.22l-0.63,-1.22l-1.22,-0.63l1.22,-0.63zM662.7,221.6l0.63,1.22l1.22,0.63l-1.22,0.63l-0.63,1.22l-0.63,-1.22l-1.22,-0.63l1.22,-0.63zM664.7,222.0l0.63,1.22l1.22,0.63l-1.22,0.63l-0.63,1.22l-0.63,-1.22l-1.22,-0.63l1.22,-0.63zM666.7,222.4l0.63,1.22l1.22,0.63l-1.22,0.63l-0.63,1.22l-0.63,-1.22l-1.22,-0.63l1.22,-0.63zM668.7,222.8l0.63,1.22l1.22,0.63l-1.22,0.63l-0.63,1.22l-0.63,-1.22l-1.22,-0.63l1.22,-0.63zM670.7,223.2l0.63,1.22l1.22,0.63l-1.22,0.63l-0.63,1.22l-0.63,-1.22l-1.22,-0.63l1.22,-0.63zM672.7,223.6l0.63,1.22l1.22,0.63l-1.22,0.63l-0.63,1.22l-0.63,-1.22l-1.22,-0.63l1.22,-0.63zM674.7,223.9l0.63,1.22l1.22,0.63l-1.22,0.63l-0.63,1.22l-0.63,-1.22l-1.22,-0.63l1.22,-0.63zM676.7,224.3l0.63,1.22l1.22,0.63l-1.22,0.63l-0.63,1.22l-0.63,-1.22l-1.22,-0.63l1.22,-0.63zM678.7,224.7l0.63,1.22l1.22,0.63l-1.22,0.63l-0.63,1.22l-0.63,-1.22l-1.22,-0.63l1.22,-0.63zM680.7,225.0l0.63,1.22l1.22,0.63l-1.22,0.63l-0.63,1.22l-0.63,-1.22l-1.22,-0.63l1.22,-0.63zM682.7,225.4l0.63,1.22l1.22,0.63l-1.22,0.63l-0.63,1.22l-0.63,-1.22l-1.22,-0.63l1.22,-0.63zM684.7,225.8l0.63,1.22l1.22,0.63l-1.22,0.63l-0.63,1.22l-0.63,-1.22l-1.22,-0.63l1.22,-0.63zM686.6,226.3l0.63,1.22l1.22,0.63l-1.22,0.63l-0.63,1.22l-0.63,-1.22l-1.22,-0.63l1.22,-0.63zM688.6,226.7l0.63,1.22l1.22,0.63l-1.22,0.63l-0.63,1.22l-0.63,-1.22l-1.22,-0.63l1.22,-0.63zM690.6,227.2l0.63,1.22l1.22,0.63l-1.22,0.63l-0.63,1.22l-0.63,-1.22l-1.22,-0.63l1.22,-0.63zM692.6,227.6l0.63,1.22l1.22,0.63l-1.22,0.63l-0.63,1.22l-0.63,-1.22l-1.22,-0.63l1.22,-0.63zM694.6,228.0l0.63,1.22l1.22,0.63l-1.22,0.63l-0.63,1.22l-0.63,-1.22l-1.22,-0.63l1.22,-0.63zM696.6,228.4l0.63,1.22l1.22,0.63l-1.22,0.63l-0.63,1.22l-0.63,-1.22l-1.22,-0.63l1.22,-0.63zM698.6,228.8l0.63,1.22l1.22,0.63l-1.22,0.63l-0.63,1.22l-0.63,-1.22l-1.22,-0.63l1.22,-0.63zM700.6,229.2l0.63,1.22l1.22,0.63l-1.22,0.63l-0.63,1.22l-0.63,-1.22l-1.22,-0.63l1.22,-0.63zM702.6,229.6l0.63,1.22l1.22,0.63l-1.22,0.63l-0.63,1.22l-0.63,-1.22l-1.22,-0.63l1.22,-0.63zM704.6,230.0l0.63,1.22l1.22,0.63l-1.22,0.63l-0.63,1.22l-0.63,-1.22l-1.22,-0.63l1.22,-0.63zM706.6,230.4l0.63,1.22l1.22,0.63l-1.22,0.63l-0.63,1.22l-0.63,-1.22l-1.22,-0.63l1.22,-0.63zM708.6,230.7l0.63,1.22l1.22,0.63l-1.22,0.63l-0.63,1.22l-0.63,-1.22l-1.22,-0.63l1.22,-0.63zM710.5,231.1l0.63,1.22l1.22,0.63l-1.22,0.63l-0.63,1.22l-0.63,-1.22l-1.22,-0.63l1.22,-0.63zM712.5,231.5l0.63,1.22l1.22,0.63l-1.22,0.63l-0.63,1.22l-0.63,-1.22l-1.22,-0.63l1.22,-0.63zM714.5,231.9l0.63,1.22l1.22,0.63l-1.22,0.63l-0.63,1.22l-0.63,-1.22l-1.22,-0.63l1.22,-0.63zM716.5,232.3l0.63,1.22l1.22,0.63l-1.22,0.63l-0.63,1.22l-0.63,-1.22l-1.22,-0.63l1.22,-0.63zM718.5,232.7l0.63,1.22l1.22,0.63l-1.22,0.63l-0.63,1.22l-0.63,-1.22l-1.22,-0.63l1.22,-0.63zM720.5,233.1l0.63,1.22l1.22,0.63l-1.22,0.63l-0.63,1.22l-0.63,-1.22l-1.22,-0.63l1.22,-0.63zM722.5,233.5l0.63,1.22l1.22,0.63l-1.22,0.63l-0.63,1.22l-0.63,-1.22l-1.22,-0.63l1.22,-0.63zM724.5,233.9l0.63,1.22l1.22,0.63l-1.22,0.63l-0.63,1.22l-0.63,-1.22l-1.22,-0.63l1.22,-0.63zM726.5,234.2l0.63,1.22l1.22,0.63l-1.22,0.63l-0.63,1.22l-0.63,-1.22l-1.22,-0.63l1.22,-0.63zM728.5,234.6l0.63,1.22l1.22,0.63l-1.22,0.63l-0.63,1.22l-0.63,-1.22l-1.22,-0.63l1.22,-0.63zM730.5,235.0l0.63,1.22l1.22,0.63l-1.22,0.63l-0.63,1.22l-0.63,-1.22l-1.22,-0.63l1.22,-0.63zM732.5,235.3l0.63,1.22l1.22,0.63l-1.22,0.63l-0.63,1.22l-0.63,-1.22l-1.22,-0.63l1.22,-0.63zM734.5,235.7l0.63,1.22l1.22,0.63l-1.22,0.63l-0.63,1.22l-0.63,-1.22l-1.22,-0.63l1.22,-0.63zM736.4,236.1l0.63,1.22l1.22,0.63l-1.22,0.63l-0.63,1.22l-0.63,-1.22l-1.22,-0.63l1.22,-0.63zM738.4,236.4l0.63,1.22l1.22,0.63l-1.22,0.63l-0.63,1.22l-0.63,-1.22l-1.22,-0.63l1.22,-0.63zM740.4,236.8l0.63,1.22l1.22,0.63l-1.22,0.63l-0.63,1.22l-0.63,-1.22l-1.22,-0.63l1.22,-0.63zM742.4,237.2l0.63,1.22l1.22,0.63l-1.22,0.63l-0.63,1.22l-0.63,-1.22l-1.22,-0.63l1.22,-0.63zM744.4,237.5l0.63,1.22l1.22,0.63l-1.22,0.63l-0.63,1.22l-0.63,-1.22l-1.22,-0.63l1.22,-0.63zM746.4,237.9l0.63,1.22l1.22,0.63l-1.22,0.63l-0.63,1.22l-0.63,-1.22l-1.22,-0.63l1.22,-0.63zM748.4,238.3l0.63,1.22l1.22,0.63l-1.22,0.63l-0.63,1.22l-0.63,-1.22l-1.22,-0.63l1.22,-0.63zM750.4,238.6l0.63,1.22l1.22,0.63l-1.22,0.63l-0.63,1.22l-0.63,-1.22l-1.22,-0.63l1.22,-0.63zM752.4,239.0l0.63,1.22l1.22,0.63l-1.22,0.63l-0.63,1.22l-0.63,-1.22l-1.22,-0.63l1.22,-0.63zM754.4,239.3l0.63,1.22l1.22,0.63l-1.22,0.63l-0.63,1.22l-0.63,-1.22l-1.22,-0.63l1.22,-0.63zM756.4,239.7l0.63,1.22l1.22,0.63l-1.22,0.63l-0.63,1.22l-0.63,-1.22l-1.22,-0.63l1.22,-0.63zM758.4,240.0l0.63,1.22l1.22,0.63l-1.22,0.63l-0.63,1.22l-0.63,-1.22l-1.22,-0.63l1.22,-0.63zM760.3,240.4l0.63,1.22l1.22,0.63l-1.22,0.63l-0.63,1.22l-0.63,-1.22l-1.22,-0.63l1.22,-0.63zM762.3,240.7l0.63,1.22l1.22,0.63l-1.22,0.63l-0.63,1.22l-0.63,-1.22l-1.22,-0.63l1.22,-0.63zM764.3,241.1l0.63,1.22l1.22,0.63l-1.22,0.63l-0.63,1.22l-0.63,-1.22l-1.22,-0.63l1.22,-0.63zM766.3,241.4l0.63,1.22l1.22,0.63l-1.22,0.63l-0.63,1.22l-0.63,-1.22l-1.22,-0.63l1.22,-0.63zM768.3,241.8l0.63,1.22l1.22,0.63l-1.22,0.63l-0.63,1.22l-0.63,-1.22l-1.22,-0.63l1.22,-0.63zM770.3,242.1l0.63,1.22l1.22,0.63l-1.22,0.63l-0.63,1.22l-0.63,-1.22l-1.22,-0.63l1.22,-0.63zM772.3,242.5l0.63,1.22l1.22,0.63l-1.22,0.63l-0.63,1.22l-0.63,-1.22l-1.22,-0.63l1.22,-0.63zM774.3,242.9l0.63,1.22l1.22,0.63l-1.22,0.63l-0.63,1.22l-0.63,-1.22l-1.22,-0.63l1.22,-0.63zM776.3,243.2l0.63,1.22l1.22,0.63l-1.22,0.63l-0.63,1.22l-0.63,-1.22l-1.22,-0.63l1.22,-0.63zM778.3,243.6l0.63,1.22l1.22,0.63l-1.22,0.63l-0.63,1.22l-0.63,-1.22l-1.22,-0.63l1.22,-0.63zM780.3,243.9l0.63,1.22l1.22,0.63l-1.22,0.63l-0.63,1.22l-0.63,-1.22l-1.22,-0.63l1.22,-0.63zM782.3,244.3l0.63,1.22l1.22,0.63l-1.22,0.63l-0.63,1.22l-0.63,-1.22l-1.22,-0.63l1.22,-0.63zM784.3,244.6l0.63,1.22l1.22,0.63l-1.22,0.63l-0.63,1.22l-0.63,-1.22l-1.22,-0.63l1.22,-0.63zM786.2,245.0l0.63,1.22l1.22,0.63l-1.22,0.63l-0.63,1.22l-0.63,-1.22l-1.22,-0.63l1.22,-0.63zM787.9,246.8l0.63,1.22l1.22,0.63l-1.22,0.63l-0.63,1.22l-0.63,-1.22l-1.22,-0.63l1.22,-0.63zM790.2,245.6l0.63,1.22l1.22,0.63l-1.22,0.63l-0.63,1.22l-0.63,-1.22l-1.22,-0.63l1.22,-0.63zM792.2,245.9l0.63,1.22l1.22,0.63l-1.22,0.63l-0.63,1.22l-0.63,-1.22l-1.22,-0.63l1.22,-0.63zM794.2,246.2l0.63,1.22l1.22,0.63l-1.22,0.63l-0.63,1.22l-0.63,-1.22l-1.22,-0.63l1.22,-0.63zM796.2,246.6l0.63,1.22l1.22,0.63l-1.22,0.63l-0.63,1.22l-0.63,-1.22l-1.22,-0.63l1.22,-0.63zM798.2,246.9l0.63,1.22l1.22,0.63l-1.22,0.63l-0.63,1.22l-0.63,-1.22l-1.22,-0.63l1.22,-0.63zM800.2,247.2l0.63,1.22l1.22,0.63l-1.22,0.63l-0.63,1.22l-0.63,-1.22l-1.22,-0.63l1.22,-0.63zM802.2,247.6l0.63,1.22l1.22,0.63l-1.22,0.63l-0.63,1.22l-0.63,-1.22l-1.22,-0.63l1.22,-0.63zM804.2,247.9l0.63,1.22l1.22,0.63l-1.22,0.63l-0.63,1.22l-0.63,-1.22l-1.22,-0.63l1.22,-0.63zM805.5,248.2l0.63,1.22l1.22,0.63l-1.22,0.63l-0.63,1.22l-0.63,-1.22l-1.22,-0.63l1.22,-0.63z" fill="#3DBD33"/>
</g>
<text x="69.8" y="31.6" font-size="16.5" fill="#262626" textLength="59.9" lengthAdjust="spacingAndGlyphs">Doppler</text>
<text x="137.4" y="31.6" font-size="16.5" fill="#262626" textLength="75.7" lengthAdjust="spacingAndGlyphs">Velocities</text>
<text x="222.4" y="31.6" font-size="16.5" fill="#262626" textLength="11.2" lengthAdjust="spacingAndGlyphs">−</text>
<text x="243.0" y="31.6" font-size="16.5" fill="#262626" textLength="45.4" lengthAdjust="spacingAndGlyphs">SPICE</text>
<text x="298.0" y="31.6" font-size="16.5" fill="#262626" textLength="73.3" lengthAdjust="spacingAndGlyphs">(3F10D8,</text>
<text x="380.8" y="31.6" font-size="16.5" fill="#262626" textLength="16.5" lengthAdjust="spacingAndGlyphs">Ly</text>
<text x="398.2" y="31.6" font-size="16.5" fill="#262626" textLength="11.4" lengthAdjust="spacingAndGlyphs">−</text>
<text x="410.2" y="31.6" font-size="16.5" fill="#262626" textLength="10.3" lengthAdjust="spacingAndGlyphs" font-style="italic">β</text>
<text x="421.8" y="31.6" font-size="16.5" fill="#262626" textLength="6.1" lengthAdjust="spacingAndGlyphs">)</text>
<text x="543.1" y="31.6" font-size="16.5" fill="#262626" textLength="31.6" lengthAdjust="spacingAndGlyphs">Line</text>
<text x="582.8" y="31.6" font-size="16.5" fill="#262626" textLength="87.9" lengthAdjust="spacingAndGlyphs">Asymmetry</text>
<text x="680.3" y="31.6" font-size="16.5" fill="#262626" textLength="5.9" lengthAdjust="spacingAndGlyphs">(</text>
<text x="687.6" y="31.6" font-size="16.5" fill="#262626" textLength="16.5" lengthAdjust="spacingAndGlyphs">Ly</text>
<text x="705.0" y="31.6" font-size="16.5" fill="#262626" textLength="11.4" lengthAdjust="spacingAndGlyphs">−</text>
<text x="717.0" y="31.6" font-size="16.5" fill="#262626" textLength="10.3" lengthAdjust="spacingAndGlyphs" font-style="italic">β</text>
<text x="728.6" y="31.6" font-size="16.5" fill="#262626" textLength="6.1" lengthAdjust="spacingAndGlyphs">)</text>
<text x="221.7" y="319.6" font-size="13.9" fill="#262626" textLength="28.6" lengthAdjust="spacingAndGlyphs">Time</text>
<text x="258.5" y="319.6" font-size="13.9" fill="#262626" textLength="17.7" lengthAdjust="spacingAndGlyphs">(s)</text>
<text x="612.2" y="319.6" font-size="13.9" fill="#262626" textLength="28.6" lengthAdjust="spacingAndGlyphs">Time</text>
<text x="649.0" y="319.6" font-size="13.9" fill="#262626" textLength="17.7" lengthAdjust="spacingAndGlyphs">(s)</text>
<text transform="translate(40.3,218.6) rotate(-90)" font-size="13.9" fill="#262626" textLength="49.7" lengthAdjust="spacingAndGlyphs">Velocity</text>
<text transform="translate(40.3,162.6) rotate(-90)" font-size="13.9" fill="#262626" textLength="25.6" lengthAdjust="spacingAndGlyphs">(km</text>
<text transform="translate(40.3,130.5) rotate(-90)" font-size="13.9" fill="#262626" textLength="7.1" lengthAdjust="spacingAndGlyphs">s</text>
<text transform="translate(33.6,123.3) rotate(-90)" font-size="8.4" fill="#262626" textLength="11.0" lengthAdjust="spacingAndGlyphs">−1</text>
<text transform="translate(40.3,111.7) rotate(-90)" font-size="13.9" fill="#262626" textLength="5.7" lengthAdjust="spacingAndGlyphs">)</text>
<text transform="translate(436.2,175.1) rotate(-90)" font-size="13.7" fill="#111" textLength="26.6" lengthAdjust="spacingAndGlyphs">I<tspan dy="3.5" font-size="8.4">R</tspan><tspan dy="-3.5">/I</tspan><tspan dy="3.5" font-size="8.4">B</tspan></text>
<text x="484.1" y="272.1" font-size="12.6" fill="#262626" textLength="75.5" lengthAdjust="spacingAndGlyphs">Asymmetries</text>
<text x="565.9" y="272.1" font-size="12.6" fill="#262626" textLength="57.7" lengthAdjust="spacingAndGlyphs">measured</text>
<text x="631.0" y="272.1" font-size="12.6" fill="#262626" textLength="9.9" lengthAdjust="spacingAndGlyphs">in</text>
<text x="647.0" y="272.1" font-size="12.6" fill="#262626" textLength="33.8" lengthAdjust="spacingAndGlyphs">range</text>
<text x="687.5" y="272.1" font-size="12.6" fill="#262626" textLength="42.1" lengthAdjust="spacingAndGlyphs">±0.58Å</text>
<text x="734.8" y="272.1" font-size="12.6" fill="#262626" textLength="28.4" lengthAdjust="spacingAndGlyphs">from</text>
<text x="767.4" y="272.1" font-size="12.6" fill="#262626" textLength="7.3" lengthAdjust="spacingAndGlyphs">λ</text>
<text x="774.9" y="274.4" font-size="8.0" fill="#262626" textLength="6.3" lengthAdjust="spacingAndGlyphs">0</text>
<rect x="315.4" y="48.7" width="86.2" height="36.4" fill="#fff" stroke="#111" stroke-width="1.1"/>
<circle cx="329.6" cy="59.6" r="2.75" fill="#8A00C8"/>
<path d="M329.6,71.7l0.99,1.91l1.91,0.99l-1.91,0.99l-0.99,1.91l-0.99,-1.91l-1.91,-0.99l1.91,-0.99z" fill="#C8490A"/>
<text x="338.2" y="63.7" font-size="14.3" fill="#8A00C8" textLength="57.7" lengthAdjust="spacingAndGlyphs">Weighted</text>
<text x="338.5" y="78.6" font-size="14.3" fill="#C8490A" textLength="57.9" lengthAdjust="spacingAndGlyphs">Gaussian</text>
<rect x="680.5" y="48.7" width="118" height="36.4" fill="#fff" stroke="#111" stroke-width="1.1"/>
<circle cx="694.8" cy="59.6" r="2.75" fill="#1FAEC6"/>
<path d="M694.8,71.7l0.99,1.91l1.91,0.99l-1.91,0.99l-0.99,1.91l-0.99,-1.91l-1.91,-0.99l1.91,-0.99z" fill="#3DBD33"/>
<text x="703.9" y="63.7" font-size="14.3" fill="#1FAEC6" textLength="41.3" lengthAdjust="spacingAndGlyphs">RADYN</text>
<text x="751.9" y="63.7" font-size="14.3" fill="#1FAEC6" textLength="41.8" lengthAdjust="spacingAndGlyphs">Profile</text>
<text x="703.9" y="78.6" font-size="14.3" fill="#3DBD33" textLength="37.0" lengthAdjust="spacingAndGlyphs">SPICE</text>
<text x="747.6" y="78.6" font-size="14.3" fill="#3DBD33" textLength="41.3" lengthAdjust="spacingAndGlyphs">Profile</text>
</g></svg></body></html>
